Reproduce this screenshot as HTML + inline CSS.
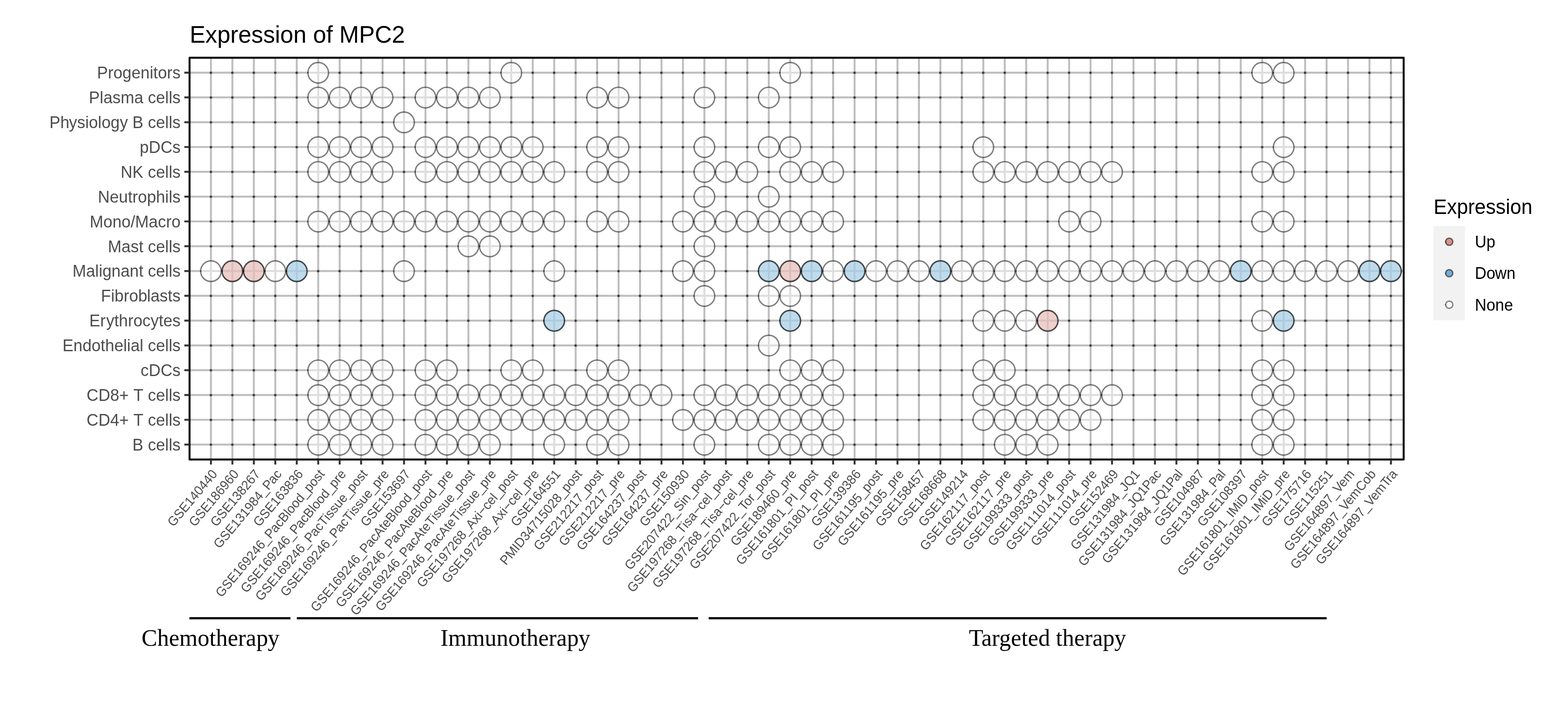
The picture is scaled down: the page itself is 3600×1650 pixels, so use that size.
<!DOCTYPE html>
<html lang="en"><head><meta charset="utf-8"><title>Expression of MPC2</title>
<style>
html,body{margin:0;padding:0;background:#fff;}
body{width:3600px;height:1650px;overflow:hidden;}
svg{display:block;}
text{font-family:"Liberation Sans",sans-serif;font-kerning:none;}
.ttl{font-size:54.25px;fill:#000;}
.yl{font-size:37.5px;fill:#4d4d4d;text-anchor:end;}
.xl{font-size:29.17px;fill:#4d4d4d;text-anchor:end;}
.ser{font-family:"Liberation Serif",serif;font-size:53.9px;fill:#000;text-anchor:middle;}
.lt{font-size:45.83px;fill:#000;}
.ll{font-size:36.67px;fill:#000;}
.g{stroke:#bebebe;stroke-width:4.45;fill:none;}
.tk{stroke:#333333;stroke-width:4.45;fill:none;}
.d{fill:rgba(0,0,0,0.56);}
.n{fill:rgba(255,255,255,0.48);stroke:rgba(0,0,0,0.5);stroke-width:3.2;}
.u{fill:rgba(231,189,186,0.49);stroke:rgba(0,0,0,0.5);stroke-width:3.2;}
.w{fill:rgba(168,208,231,0.5);stroke:rgba(0,0,0,0.5);stroke-width:3.2;}
.sn{fill:rgba(0,0,0,0.5);}
.su{fill:rgba(0,0,0,0.5);}
.sw{fill:rgba(0,0,0,0.5);}
</style></head><body>
<svg width="3600" height="1650" viewBox="0 0 3600 1650">
<rect x="0" y="0" width="3600" height="1650" fill="#fff"/>
<text class="ttl" transform="translate(435.4 98.1) scale(1 1.04)">Expression of MPC2</text>
<g class="g">
<path d="M435.2 166.65H3222.7M435.2 223.56H3222.7M435.2 280.47H3222.7M435.2 337.38H3222.7M435.2 394.29H3222.7M435.2 451.2H3222.7M435.2 508.11H3222.7M435.2 565.02H3222.7M435.2 621.93H3222.7M435.2 678.84H3222.7M435.2 735.75H3222.7M435.2 792.66H3222.7M435.2 849.57H3222.7M435.2 906.48H3222.7M435.2 963.39H3222.7M435.2 1020.3H3222.7M484.3 132.5V1054.5M533.56 132.5V1054.5M582.82 132.5V1054.5M632.07 132.5V1054.5M681.33 132.5V1054.5M730.59 132.5V1054.5M779.85 132.5V1054.5M829.11 132.5V1054.5M878.36 132.5V1054.5M927.62 132.5V1054.5M976.88 132.5V1054.5M1026.14 132.5V1054.5M1075.4 132.5V1054.5M1124.65 132.5V1054.5M1173.91 132.5V1054.5M1223.17 132.5V1054.5M1272.43 132.5V1054.5M1321.69 132.5V1054.5M1370.94 132.5V1054.5M1420.2 132.5V1054.5M1469.46 132.5V1054.5M1518.72 132.5V1054.5M1567.98 132.5V1054.5M1617.23 132.5V1054.5M1666.49 132.5V1054.5M1715.75 132.5V1054.5M1765.01 132.5V1054.5M1814.27 132.5V1054.5M1863.52 132.5V1054.5M1912.78 132.5V1054.5M1962.04 132.5V1054.5M2011.3 132.5V1054.5M2060.56 132.5V1054.5M2109.81 132.5V1054.5M2159.07 132.5V1054.5M2208.33 132.5V1054.5M2257.59 132.5V1054.5M2306.85 132.5V1054.5M2356.1 132.5V1054.5M2405.36 132.5V1054.5M2454.62 132.5V1054.5M2503.88 132.5V1054.5M2553.14 132.5V1054.5M2602.39 132.5V1054.5M2651.65 132.5V1054.5M2700.91 132.5V1054.5M2750.17 132.5V1054.5M2799.43 132.5V1054.5M2848.68 132.5V1054.5M2897.94 132.5V1054.5M2947.2 132.5V1054.5M2996.46 132.5V1054.5M3045.72 132.5V1054.5M3094.97 132.5V1054.5M3144.23 132.5V1054.5M3193.49 132.5V1054.5"/>
</g>
<g class="d">
<circle cx="484.3" cy="166.9" r="3"/>
<circle cx="533.56" cy="166.9" r="3"/>
<circle cx="582.82" cy="166.9" r="3"/>
<circle cx="632.07" cy="166.9" r="3"/>
<circle cx="681.33" cy="166.9" r="3"/>
<circle cx="779.85" cy="166.9" r="3"/>
<circle cx="829.11" cy="166.9" r="3"/>
<circle cx="878.36" cy="166.9" r="3"/>
<circle cx="927.62" cy="166.9" r="3"/>
<circle cx="976.88" cy="166.9" r="3"/>
<circle cx="1026.14" cy="166.9" r="3"/>
<circle cx="1075.4" cy="166.9" r="3"/>
<circle cx="1124.65" cy="166.9" r="3"/>
<circle cx="1223.17" cy="166.9" r="3"/>
<circle cx="1272.43" cy="166.9" r="3"/>
<circle cx="1321.69" cy="166.9" r="3"/>
<circle cx="1370.94" cy="166.9" r="3"/>
<circle cx="1420.2" cy="166.9" r="3"/>
<circle cx="1469.46" cy="166.9" r="3"/>
<circle cx="1518.72" cy="166.9" r="3"/>
<circle cx="1567.98" cy="166.9" r="3"/>
<circle cx="1617.23" cy="166.9" r="3"/>
<circle cx="1666.49" cy="166.9" r="3"/>
<circle cx="1715.75" cy="166.9" r="3"/>
<circle cx="1765.01" cy="166.9" r="3"/>
<circle cx="1863.52" cy="166.9" r="3"/>
<circle cx="1912.78" cy="166.9" r="3"/>
<circle cx="1962.04" cy="166.9" r="3"/>
<circle cx="2011.3" cy="166.9" r="3"/>
<circle cx="2060.56" cy="166.9" r="3"/>
<circle cx="2109.81" cy="166.9" r="3"/>
<circle cx="2159.07" cy="166.9" r="3"/>
<circle cx="2208.33" cy="166.9" r="3"/>
<circle cx="2257.59" cy="166.9" r="3"/>
<circle cx="2306.85" cy="166.9" r="3"/>
<circle cx="2356.1" cy="166.9" r="3"/>
<circle cx="2405.36" cy="166.9" r="3"/>
<circle cx="2454.62" cy="166.9" r="3"/>
<circle cx="2503.88" cy="166.9" r="3"/>
<circle cx="2553.14" cy="166.9" r="3"/>
<circle cx="2602.39" cy="166.9" r="3"/>
<circle cx="2651.65" cy="166.9" r="3"/>
<circle cx="2700.91" cy="166.9" r="3"/>
<circle cx="2750.17" cy="166.9" r="3"/>
<circle cx="2799.43" cy="166.9" r="3"/>
<circle cx="2848.68" cy="166.9" r="3"/>
<circle cx="2996.46" cy="166.9" r="3"/>
<circle cx="3045.72" cy="166.9" r="3"/>
<circle cx="3094.97" cy="166.9" r="3"/>
<circle cx="3144.23" cy="166.9" r="3"/>
<circle cx="3193.49" cy="166.9" r="3"/>
<circle cx="484.3" cy="223.81" r="3"/>
<circle cx="533.56" cy="223.81" r="3"/>
<circle cx="582.82" cy="223.81" r="3"/>
<circle cx="632.07" cy="223.81" r="3"/>
<circle cx="681.33" cy="223.81" r="3"/>
<circle cx="927.62" cy="223.81" r="3"/>
<circle cx="1173.91" cy="223.81" r="3"/>
<circle cx="1223.17" cy="223.81" r="3"/>
<circle cx="1272.43" cy="223.81" r="3"/>
<circle cx="1321.69" cy="223.81" r="3"/>
<circle cx="1469.46" cy="223.81" r="3"/>
<circle cx="1518.72" cy="223.81" r="3"/>
<circle cx="1567.98" cy="223.81" r="3"/>
<circle cx="1666.49" cy="223.81" r="3"/>
<circle cx="1715.75" cy="223.81" r="3"/>
<circle cx="1814.27" cy="223.81" r="3"/>
<circle cx="1863.52" cy="223.81" r="3"/>
<circle cx="1912.78" cy="223.81" r="3"/>
<circle cx="1962.04" cy="223.81" r="3"/>
<circle cx="2011.3" cy="223.81" r="3"/>
<circle cx="2060.56" cy="223.81" r="3"/>
<circle cx="2109.81" cy="223.81" r="3"/>
<circle cx="2159.07" cy="223.81" r="3"/>
<circle cx="2208.33" cy="223.81" r="3"/>
<circle cx="2257.59" cy="223.81" r="3"/>
<circle cx="2306.85" cy="223.81" r="3"/>
<circle cx="2356.1" cy="223.81" r="3"/>
<circle cx="2405.36" cy="223.81" r="3"/>
<circle cx="2454.62" cy="223.81" r="3"/>
<circle cx="2503.88" cy="223.81" r="3"/>
<circle cx="2553.14" cy="223.81" r="3"/>
<circle cx="2602.39" cy="223.81" r="3"/>
<circle cx="2651.65" cy="223.81" r="3"/>
<circle cx="2700.91" cy="223.81" r="3"/>
<circle cx="2750.17" cy="223.81" r="3"/>
<circle cx="2799.43" cy="223.81" r="3"/>
<circle cx="2848.68" cy="223.81" r="3"/>
<circle cx="2897.94" cy="223.81" r="3"/>
<circle cx="2947.2" cy="223.81" r="3"/>
<circle cx="2996.46" cy="223.81" r="3"/>
<circle cx="3045.72" cy="223.81" r="3"/>
<circle cx="3094.97" cy="223.81" r="3"/>
<circle cx="3144.23" cy="223.81" r="3"/>
<circle cx="3193.49" cy="223.81" r="3"/>
<circle cx="484.3" cy="280.72" r="3"/>
<circle cx="533.56" cy="280.72" r="3"/>
<circle cx="582.82" cy="280.72" r="3"/>
<circle cx="632.07" cy="280.72" r="3"/>
<circle cx="681.33" cy="280.72" r="3"/>
<circle cx="730.59" cy="280.72" r="3"/>
<circle cx="779.85" cy="280.72" r="3"/>
<circle cx="829.11" cy="280.72" r="3"/>
<circle cx="878.36" cy="280.72" r="3"/>
<circle cx="976.88" cy="280.72" r="3"/>
<circle cx="1026.14" cy="280.72" r="3"/>
<circle cx="1075.4" cy="280.72" r="3"/>
<circle cx="1124.65" cy="280.72" r="3"/>
<circle cx="1173.91" cy="280.72" r="3"/>
<circle cx="1223.17" cy="280.72" r="3"/>
<circle cx="1272.43" cy="280.72" r="3"/>
<circle cx="1321.69" cy="280.72" r="3"/>
<circle cx="1370.94" cy="280.72" r="3"/>
<circle cx="1420.2" cy="280.72" r="3"/>
<circle cx="1469.46" cy="280.72" r="3"/>
<circle cx="1518.72" cy="280.72" r="3"/>
<circle cx="1567.98" cy="280.72" r="3"/>
<circle cx="1617.23" cy="280.72" r="3"/>
<circle cx="1666.49" cy="280.72" r="3"/>
<circle cx="1715.75" cy="280.72" r="3"/>
<circle cx="1765.01" cy="280.72" r="3"/>
<circle cx="1814.27" cy="280.72" r="3"/>
<circle cx="1863.52" cy="280.72" r="3"/>
<circle cx="1912.78" cy="280.72" r="3"/>
<circle cx="1962.04" cy="280.72" r="3"/>
<circle cx="2011.3" cy="280.72" r="3"/>
<circle cx="2060.56" cy="280.72" r="3"/>
<circle cx="2109.81" cy="280.72" r="3"/>
<circle cx="2159.07" cy="280.72" r="3"/>
<circle cx="2208.33" cy="280.72" r="3"/>
<circle cx="2257.59" cy="280.72" r="3"/>
<circle cx="2306.85" cy="280.72" r="3"/>
<circle cx="2356.1" cy="280.72" r="3"/>
<circle cx="2405.36" cy="280.72" r="3"/>
<circle cx="2454.62" cy="280.72" r="3"/>
<circle cx="2503.88" cy="280.72" r="3"/>
<circle cx="2553.14" cy="280.72" r="3"/>
<circle cx="2602.39" cy="280.72" r="3"/>
<circle cx="2651.65" cy="280.72" r="3"/>
<circle cx="2700.91" cy="280.72" r="3"/>
<circle cx="2750.17" cy="280.72" r="3"/>
<circle cx="2799.43" cy="280.72" r="3"/>
<circle cx="2848.68" cy="280.72" r="3"/>
<circle cx="2897.94" cy="280.72" r="3"/>
<circle cx="2947.2" cy="280.72" r="3"/>
<circle cx="2996.46" cy="280.72" r="3"/>
<circle cx="3045.72" cy="280.72" r="3"/>
<circle cx="3094.97" cy="280.72" r="3"/>
<circle cx="3144.23" cy="280.72" r="3"/>
<circle cx="3193.49" cy="280.72" r="3"/>
<circle cx="484.3" cy="337.63" r="3"/>
<circle cx="533.56" cy="337.63" r="3"/>
<circle cx="582.82" cy="337.63" r="3"/>
<circle cx="632.07" cy="337.63" r="3"/>
<circle cx="681.33" cy="337.63" r="3"/>
<circle cx="927.62" cy="337.63" r="3"/>
<circle cx="1272.43" cy="337.63" r="3"/>
<circle cx="1321.69" cy="337.63" r="3"/>
<circle cx="1469.46" cy="337.63" r="3"/>
<circle cx="1518.72" cy="337.63" r="3"/>
<circle cx="1567.98" cy="337.63" r="3"/>
<circle cx="1666.49" cy="337.63" r="3"/>
<circle cx="1715.75" cy="337.63" r="3"/>
<circle cx="1863.52" cy="337.63" r="3"/>
<circle cx="1912.78" cy="337.63" r="3"/>
<circle cx="1962.04" cy="337.63" r="3"/>
<circle cx="2011.3" cy="337.63" r="3"/>
<circle cx="2060.56" cy="337.63" r="3"/>
<circle cx="2109.81" cy="337.63" r="3"/>
<circle cx="2159.07" cy="337.63" r="3"/>
<circle cx="2208.33" cy="337.63" r="3"/>
<circle cx="2306.85" cy="337.63" r="3"/>
<circle cx="2356.1" cy="337.63" r="3"/>
<circle cx="2405.36" cy="337.63" r="3"/>
<circle cx="2454.62" cy="337.63" r="3"/>
<circle cx="2503.88" cy="337.63" r="3"/>
<circle cx="2553.14" cy="337.63" r="3"/>
<circle cx="2602.39" cy="337.63" r="3"/>
<circle cx="2651.65" cy="337.63" r="3"/>
<circle cx="2700.91" cy="337.63" r="3"/>
<circle cx="2750.17" cy="337.63" r="3"/>
<circle cx="2799.43" cy="337.63" r="3"/>
<circle cx="2848.68" cy="337.63" r="3"/>
<circle cx="2897.94" cy="337.63" r="3"/>
<circle cx="2996.46" cy="337.63" r="3"/>
<circle cx="3045.72" cy="337.63" r="3"/>
<circle cx="3094.97" cy="337.63" r="3"/>
<circle cx="3144.23" cy="337.63" r="3"/>
<circle cx="3193.49" cy="337.63" r="3"/>
<circle cx="484.3" cy="394.54" r="3"/>
<circle cx="533.56" cy="394.54" r="3"/>
<circle cx="582.82" cy="394.54" r="3"/>
<circle cx="632.07" cy="394.54" r="3"/>
<circle cx="681.33" cy="394.54" r="3"/>
<circle cx="927.62" cy="394.54" r="3"/>
<circle cx="1321.69" cy="394.54" r="3"/>
<circle cx="1469.46" cy="394.54" r="3"/>
<circle cx="1518.72" cy="394.54" r="3"/>
<circle cx="1567.98" cy="394.54" r="3"/>
<circle cx="1765.01" cy="394.54" r="3"/>
<circle cx="1962.04" cy="394.54" r="3"/>
<circle cx="2011.3" cy="394.54" r="3"/>
<circle cx="2060.56" cy="394.54" r="3"/>
<circle cx="2109.81" cy="394.54" r="3"/>
<circle cx="2159.07" cy="394.54" r="3"/>
<circle cx="2208.33" cy="394.54" r="3"/>
<circle cx="2602.39" cy="394.54" r="3"/>
<circle cx="2651.65" cy="394.54" r="3"/>
<circle cx="2700.91" cy="394.54" r="3"/>
<circle cx="2750.17" cy="394.54" r="3"/>
<circle cx="2799.43" cy="394.54" r="3"/>
<circle cx="2848.68" cy="394.54" r="3"/>
<circle cx="2996.46" cy="394.54" r="3"/>
<circle cx="3045.72" cy="394.54" r="3"/>
<circle cx="3094.97" cy="394.54" r="3"/>
<circle cx="3144.23" cy="394.54" r="3"/>
<circle cx="3193.49" cy="394.54" r="3"/>
<circle cx="484.3" cy="451.45" r="3"/>
<circle cx="533.56" cy="451.45" r="3"/>
<circle cx="582.82" cy="451.45" r="3"/>
<circle cx="632.07" cy="451.45" r="3"/>
<circle cx="681.33" cy="451.45" r="3"/>
<circle cx="730.59" cy="451.45" r="3"/>
<circle cx="779.85" cy="451.45" r="3"/>
<circle cx="829.11" cy="451.45" r="3"/>
<circle cx="878.36" cy="451.45" r="3"/>
<circle cx="927.62" cy="451.45" r="3"/>
<circle cx="976.88" cy="451.45" r="3"/>
<circle cx="1026.14" cy="451.45" r="3"/>
<circle cx="1075.4" cy="451.45" r="3"/>
<circle cx="1124.65" cy="451.45" r="3"/>
<circle cx="1173.91" cy="451.45" r="3"/>
<circle cx="1223.17" cy="451.45" r="3"/>
<circle cx="1272.43" cy="451.45" r="3"/>
<circle cx="1321.69" cy="451.45" r="3"/>
<circle cx="1370.94" cy="451.45" r="3"/>
<circle cx="1420.2" cy="451.45" r="3"/>
<circle cx="1469.46" cy="451.45" r="3"/>
<circle cx="1518.72" cy="451.45" r="3"/>
<circle cx="1567.98" cy="451.45" r="3"/>
<circle cx="1666.49" cy="451.45" r="3"/>
<circle cx="1715.75" cy="451.45" r="3"/>
<circle cx="1814.27" cy="451.45" r="3"/>
<circle cx="1863.52" cy="451.45" r="3"/>
<circle cx="1912.78" cy="451.45" r="3"/>
<circle cx="1962.04" cy="451.45" r="3"/>
<circle cx="2011.3" cy="451.45" r="3"/>
<circle cx="2060.56" cy="451.45" r="3"/>
<circle cx="2109.81" cy="451.45" r="3"/>
<circle cx="2159.07" cy="451.45" r="3"/>
<circle cx="2208.33" cy="451.45" r="3"/>
<circle cx="2257.59" cy="451.45" r="3"/>
<circle cx="2306.85" cy="451.45" r="3"/>
<circle cx="2356.1" cy="451.45" r="3"/>
<circle cx="2405.36" cy="451.45" r="3"/>
<circle cx="2454.62" cy="451.45" r="3"/>
<circle cx="2503.88" cy="451.45" r="3"/>
<circle cx="2553.14" cy="451.45" r="3"/>
<circle cx="2602.39" cy="451.45" r="3"/>
<circle cx="2651.65" cy="451.45" r="3"/>
<circle cx="2700.91" cy="451.45" r="3"/>
<circle cx="2750.17" cy="451.45" r="3"/>
<circle cx="2799.43" cy="451.45" r="3"/>
<circle cx="2848.68" cy="451.45" r="3"/>
<circle cx="2897.94" cy="451.45" r="3"/>
<circle cx="2947.2" cy="451.45" r="3"/>
<circle cx="2996.46" cy="451.45" r="3"/>
<circle cx="3045.72" cy="451.45" r="3"/>
<circle cx="3094.97" cy="451.45" r="3"/>
<circle cx="3144.23" cy="451.45" r="3"/>
<circle cx="3193.49" cy="451.45" r="3"/>
<circle cx="484.3" cy="508.36" r="3"/>
<circle cx="533.56" cy="508.36" r="3"/>
<circle cx="582.82" cy="508.36" r="3"/>
<circle cx="632.07" cy="508.36" r="3"/>
<circle cx="681.33" cy="508.36" r="3"/>
<circle cx="1321.69" cy="508.36" r="3"/>
<circle cx="1469.46" cy="508.36" r="3"/>
<circle cx="1518.72" cy="508.36" r="3"/>
<circle cx="1962.04" cy="508.36" r="3"/>
<circle cx="2011.3" cy="508.36" r="3"/>
<circle cx="2060.56" cy="508.36" r="3"/>
<circle cx="2109.81" cy="508.36" r="3"/>
<circle cx="2159.07" cy="508.36" r="3"/>
<circle cx="2208.33" cy="508.36" r="3"/>
<circle cx="2257.59" cy="508.36" r="3"/>
<circle cx="2306.85" cy="508.36" r="3"/>
<circle cx="2356.1" cy="508.36" r="3"/>
<circle cx="2405.36" cy="508.36" r="3"/>
<circle cx="2553.14" cy="508.36" r="3"/>
<circle cx="2602.39" cy="508.36" r="3"/>
<circle cx="2651.65" cy="508.36" r="3"/>
<circle cx="2700.91" cy="508.36" r="3"/>
<circle cx="2750.17" cy="508.36" r="3"/>
<circle cx="2799.43" cy="508.36" r="3"/>
<circle cx="2848.68" cy="508.36" r="3"/>
<circle cx="2996.46" cy="508.36" r="3"/>
<circle cx="3045.72" cy="508.36" r="3"/>
<circle cx="3094.97" cy="508.36" r="3"/>
<circle cx="3144.23" cy="508.36" r="3"/>
<circle cx="3193.49" cy="508.36" r="3"/>
<circle cx="484.3" cy="565.27" r="3"/>
<circle cx="533.56" cy="565.27" r="3"/>
<circle cx="582.82" cy="565.27" r="3"/>
<circle cx="632.07" cy="565.27" r="3"/>
<circle cx="681.33" cy="565.27" r="3"/>
<circle cx="730.59" cy="565.27" r="3"/>
<circle cx="779.85" cy="565.27" r="3"/>
<circle cx="829.11" cy="565.27" r="3"/>
<circle cx="878.36" cy="565.27" r="3"/>
<circle cx="927.62" cy="565.27" r="3"/>
<circle cx="976.88" cy="565.27" r="3"/>
<circle cx="1026.14" cy="565.27" r="3"/>
<circle cx="1173.91" cy="565.27" r="3"/>
<circle cx="1223.17" cy="565.27" r="3"/>
<circle cx="1272.43" cy="565.27" r="3"/>
<circle cx="1321.69" cy="565.27" r="3"/>
<circle cx="1370.94" cy="565.27" r="3"/>
<circle cx="1420.2" cy="565.27" r="3"/>
<circle cx="1469.46" cy="565.27" r="3"/>
<circle cx="1518.72" cy="565.27" r="3"/>
<circle cx="1567.98" cy="565.27" r="3"/>
<circle cx="1666.49" cy="565.27" r="3"/>
<circle cx="1715.75" cy="565.27" r="3"/>
<circle cx="1765.01" cy="565.27" r="3"/>
<circle cx="1814.27" cy="565.27" r="3"/>
<circle cx="1863.52" cy="565.27" r="3"/>
<circle cx="1912.78" cy="565.27" r="3"/>
<circle cx="1962.04" cy="565.27" r="3"/>
<circle cx="2011.3" cy="565.27" r="3"/>
<circle cx="2060.56" cy="565.27" r="3"/>
<circle cx="2109.81" cy="565.27" r="3"/>
<circle cx="2159.07" cy="565.27" r="3"/>
<circle cx="2208.33" cy="565.27" r="3"/>
<circle cx="2257.59" cy="565.27" r="3"/>
<circle cx="2306.85" cy="565.27" r="3"/>
<circle cx="2356.1" cy="565.27" r="3"/>
<circle cx="2405.36" cy="565.27" r="3"/>
<circle cx="2454.62" cy="565.27" r="3"/>
<circle cx="2503.88" cy="565.27" r="3"/>
<circle cx="2553.14" cy="565.27" r="3"/>
<circle cx="2602.39" cy="565.27" r="3"/>
<circle cx="2651.65" cy="565.27" r="3"/>
<circle cx="2700.91" cy="565.27" r="3"/>
<circle cx="2750.17" cy="565.27" r="3"/>
<circle cx="2799.43" cy="565.27" r="3"/>
<circle cx="2848.68" cy="565.27" r="3"/>
<circle cx="2897.94" cy="565.27" r="3"/>
<circle cx="2947.2" cy="565.27" r="3"/>
<circle cx="2996.46" cy="565.27" r="3"/>
<circle cx="3045.72" cy="565.27" r="3"/>
<circle cx="3094.97" cy="565.27" r="3"/>
<circle cx="3144.23" cy="565.27" r="3"/>
<circle cx="3193.49" cy="565.27" r="3"/>
<circle cx="730.59" cy="622.18" r="3"/>
<circle cx="779.85" cy="622.18" r="3"/>
<circle cx="829.11" cy="622.18" r="3"/>
<circle cx="878.36" cy="622.18" r="3"/>
<circle cx="976.88" cy="622.18" r="3"/>
<circle cx="1026.14" cy="622.18" r="3"/>
<circle cx="1075.4" cy="622.18" r="3"/>
<circle cx="1124.65" cy="622.18" r="3"/>
<circle cx="1173.91" cy="622.18" r="3"/>
<circle cx="1223.17" cy="622.18" r="3"/>
<circle cx="1321.69" cy="622.18" r="3"/>
<circle cx="1370.94" cy="622.18" r="3"/>
<circle cx="1420.2" cy="622.18" r="3"/>
<circle cx="1469.46" cy="622.18" r="3"/>
<circle cx="1518.72" cy="622.18" r="3"/>
<circle cx="1666.49" cy="622.18" r="3"/>
<circle cx="1715.75" cy="622.18" r="3"/>
<circle cx="484.3" cy="679.09" r="3"/>
<circle cx="533.56" cy="679.09" r="3"/>
<circle cx="582.82" cy="679.09" r="3"/>
<circle cx="632.07" cy="679.09" r="3"/>
<circle cx="681.33" cy="679.09" r="3"/>
<circle cx="730.59" cy="679.09" r="3"/>
<circle cx="779.85" cy="679.09" r="3"/>
<circle cx="829.11" cy="679.09" r="3"/>
<circle cx="878.36" cy="679.09" r="3"/>
<circle cx="927.62" cy="679.09" r="3"/>
<circle cx="976.88" cy="679.09" r="3"/>
<circle cx="1026.14" cy="679.09" r="3"/>
<circle cx="1075.4" cy="679.09" r="3"/>
<circle cx="1124.65" cy="679.09" r="3"/>
<circle cx="1173.91" cy="679.09" r="3"/>
<circle cx="1223.17" cy="679.09" r="3"/>
<circle cx="1272.43" cy="679.09" r="3"/>
<circle cx="1321.69" cy="679.09" r="3"/>
<circle cx="1370.94" cy="679.09" r="3"/>
<circle cx="1420.2" cy="679.09" r="3"/>
<circle cx="1469.46" cy="679.09" r="3"/>
<circle cx="1518.72" cy="679.09" r="3"/>
<circle cx="1567.98" cy="679.09" r="3"/>
<circle cx="1666.49" cy="679.09" r="3"/>
<circle cx="1715.75" cy="679.09" r="3"/>
<circle cx="1863.52" cy="679.09" r="3"/>
<circle cx="1912.78" cy="679.09" r="3"/>
<circle cx="1962.04" cy="679.09" r="3"/>
<circle cx="2011.3" cy="679.09" r="3"/>
<circle cx="2060.56" cy="679.09" r="3"/>
<circle cx="2109.81" cy="679.09" r="3"/>
<circle cx="2159.07" cy="679.09" r="3"/>
<circle cx="2208.33" cy="679.09" r="3"/>
<circle cx="2257.59" cy="679.09" r="3"/>
<circle cx="2306.85" cy="679.09" r="3"/>
<circle cx="2356.1" cy="679.09" r="3"/>
<circle cx="2405.36" cy="679.09" r="3"/>
<circle cx="2454.62" cy="679.09" r="3"/>
<circle cx="2503.88" cy="679.09" r="3"/>
<circle cx="2553.14" cy="679.09" r="3"/>
<circle cx="2602.39" cy="679.09" r="3"/>
<circle cx="2651.65" cy="679.09" r="3"/>
<circle cx="2700.91" cy="679.09" r="3"/>
<circle cx="2750.17" cy="679.09" r="3"/>
<circle cx="2799.43" cy="679.09" r="3"/>
<circle cx="2848.68" cy="679.09" r="3"/>
<circle cx="2897.94" cy="679.09" r="3"/>
<circle cx="2947.2" cy="679.09" r="3"/>
<circle cx="2996.46" cy="679.09" r="3"/>
<circle cx="3045.72" cy="679.09" r="3"/>
<circle cx="3094.97" cy="679.09" r="3"/>
<circle cx="3144.23" cy="679.09" r="3"/>
<circle cx="3193.49" cy="679.09" r="3"/>
<circle cx="484.3" cy="736" r="3"/>
<circle cx="533.56" cy="736" r="3"/>
<circle cx="582.82" cy="736" r="3"/>
<circle cx="632.07" cy="736" r="3"/>
<circle cx="681.33" cy="736" r="3"/>
<circle cx="730.59" cy="736" r="3"/>
<circle cx="779.85" cy="736" r="3"/>
<circle cx="829.11" cy="736" r="3"/>
<circle cx="878.36" cy="736" r="3"/>
<circle cx="927.62" cy="736" r="3"/>
<circle cx="976.88" cy="736" r="3"/>
<circle cx="1026.14" cy="736" r="3"/>
<circle cx="1075.4" cy="736" r="3"/>
<circle cx="1124.65" cy="736" r="3"/>
<circle cx="1173.91" cy="736" r="3"/>
<circle cx="1223.17" cy="736" r="3"/>
<circle cx="1321.69" cy="736" r="3"/>
<circle cx="1370.94" cy="736" r="3"/>
<circle cx="1420.2" cy="736" r="3"/>
<circle cx="1469.46" cy="736" r="3"/>
<circle cx="1518.72" cy="736" r="3"/>
<circle cx="1567.98" cy="736" r="3"/>
<circle cx="1617.23" cy="736" r="3"/>
<circle cx="1666.49" cy="736" r="3"/>
<circle cx="1715.75" cy="736" r="3"/>
<circle cx="1765.01" cy="736" r="3"/>
<circle cx="1863.52" cy="736" r="3"/>
<circle cx="1912.78" cy="736" r="3"/>
<circle cx="1962.04" cy="736" r="3"/>
<circle cx="2011.3" cy="736" r="3"/>
<circle cx="2060.56" cy="736" r="3"/>
<circle cx="2109.81" cy="736" r="3"/>
<circle cx="2159.07" cy="736" r="3"/>
<circle cx="2208.33" cy="736" r="3"/>
<circle cx="2454.62" cy="736" r="3"/>
<circle cx="2503.88" cy="736" r="3"/>
<circle cx="2553.14" cy="736" r="3"/>
<circle cx="2602.39" cy="736" r="3"/>
<circle cx="2651.65" cy="736" r="3"/>
<circle cx="2700.91" cy="736" r="3"/>
<circle cx="2750.17" cy="736" r="3"/>
<circle cx="2799.43" cy="736" r="3"/>
<circle cx="2848.68" cy="736" r="3"/>
<circle cx="2996.46" cy="736" r="3"/>
<circle cx="3045.72" cy="736" r="3"/>
<circle cx="3094.97" cy="736" r="3"/>
<circle cx="3144.23" cy="736" r="3"/>
<circle cx="3193.49" cy="736" r="3"/>
<circle cx="484.3" cy="792.91" r="3"/>
<circle cx="533.56" cy="792.91" r="3"/>
<circle cx="582.82" cy="792.91" r="3"/>
<circle cx="632.07" cy="792.91" r="3"/>
<circle cx="681.33" cy="792.91" r="3"/>
<circle cx="730.59" cy="792.91" r="3"/>
<circle cx="779.85" cy="792.91" r="3"/>
<circle cx="829.11" cy="792.91" r="3"/>
<circle cx="878.36" cy="792.91" r="3"/>
<circle cx="927.62" cy="792.91" r="3"/>
<circle cx="976.88" cy="792.91" r="3"/>
<circle cx="1026.14" cy="792.91" r="3"/>
<circle cx="1075.4" cy="792.91" r="3"/>
<circle cx="1124.65" cy="792.91" r="3"/>
<circle cx="1173.91" cy="792.91" r="3"/>
<circle cx="1223.17" cy="792.91" r="3"/>
<circle cx="1272.43" cy="792.91" r="3"/>
<circle cx="1321.69" cy="792.91" r="3"/>
<circle cx="1370.94" cy="792.91" r="3"/>
<circle cx="1420.2" cy="792.91" r="3"/>
<circle cx="1469.46" cy="792.91" r="3"/>
<circle cx="1518.72" cy="792.91" r="3"/>
<circle cx="1567.98" cy="792.91" r="3"/>
<circle cx="1617.23" cy="792.91" r="3"/>
<circle cx="1666.49" cy="792.91" r="3"/>
<circle cx="1715.75" cy="792.91" r="3"/>
<circle cx="1814.27" cy="792.91" r="3"/>
<circle cx="1863.52" cy="792.91" r="3"/>
<circle cx="1912.78" cy="792.91" r="3"/>
<circle cx="1962.04" cy="792.91" r="3"/>
<circle cx="2011.3" cy="792.91" r="3"/>
<circle cx="2060.56" cy="792.91" r="3"/>
<circle cx="2109.81" cy="792.91" r="3"/>
<circle cx="2159.07" cy="792.91" r="3"/>
<circle cx="2208.33" cy="792.91" r="3"/>
<circle cx="2257.59" cy="792.91" r="3"/>
<circle cx="2306.85" cy="792.91" r="3"/>
<circle cx="2356.1" cy="792.91" r="3"/>
<circle cx="2405.36" cy="792.91" r="3"/>
<circle cx="2454.62" cy="792.91" r="3"/>
<circle cx="2503.88" cy="792.91" r="3"/>
<circle cx="2553.14" cy="792.91" r="3"/>
<circle cx="2602.39" cy="792.91" r="3"/>
<circle cx="2651.65" cy="792.91" r="3"/>
<circle cx="2700.91" cy="792.91" r="3"/>
<circle cx="2750.17" cy="792.91" r="3"/>
<circle cx="2799.43" cy="792.91" r="3"/>
<circle cx="2848.68" cy="792.91" r="3"/>
<circle cx="2897.94" cy="792.91" r="3"/>
<circle cx="2947.2" cy="792.91" r="3"/>
<circle cx="2996.46" cy="792.91" r="3"/>
<circle cx="3045.72" cy="792.91" r="3"/>
<circle cx="3094.97" cy="792.91" r="3"/>
<circle cx="3144.23" cy="792.91" r="3"/>
<circle cx="3193.49" cy="792.91" r="3"/>
<circle cx="484.3" cy="849.82" r="3"/>
<circle cx="533.56" cy="849.82" r="3"/>
<circle cx="582.82" cy="849.82" r="3"/>
<circle cx="632.07" cy="849.82" r="3"/>
<circle cx="681.33" cy="849.82" r="3"/>
<circle cx="927.62" cy="849.82" r="3"/>
<circle cx="1075.4" cy="849.82" r="3"/>
<circle cx="1124.65" cy="849.82" r="3"/>
<circle cx="1272.43" cy="849.82" r="3"/>
<circle cx="1321.69" cy="849.82" r="3"/>
<circle cx="1469.46" cy="849.82" r="3"/>
<circle cx="1518.72" cy="849.82" r="3"/>
<circle cx="1567.98" cy="849.82" r="3"/>
<circle cx="1617.23" cy="849.82" r="3"/>
<circle cx="1666.49" cy="849.82" r="3"/>
<circle cx="1715.75" cy="849.82" r="3"/>
<circle cx="1765.01" cy="849.82" r="3"/>
<circle cx="1962.04" cy="849.82" r="3"/>
<circle cx="2011.3" cy="849.82" r="3"/>
<circle cx="2060.56" cy="849.82" r="3"/>
<circle cx="2109.81" cy="849.82" r="3"/>
<circle cx="2159.07" cy="849.82" r="3"/>
<circle cx="2208.33" cy="849.82" r="3"/>
<circle cx="2356.1" cy="849.82" r="3"/>
<circle cx="2405.36" cy="849.82" r="3"/>
<circle cx="2454.62" cy="849.82" r="3"/>
<circle cx="2503.88" cy="849.82" r="3"/>
<circle cx="2553.14" cy="849.82" r="3"/>
<circle cx="2602.39" cy="849.82" r="3"/>
<circle cx="2651.65" cy="849.82" r="3"/>
<circle cx="2700.91" cy="849.82" r="3"/>
<circle cx="2750.17" cy="849.82" r="3"/>
<circle cx="2799.43" cy="849.82" r="3"/>
<circle cx="2848.68" cy="849.82" r="3"/>
<circle cx="2996.46" cy="849.82" r="3"/>
<circle cx="3045.72" cy="849.82" r="3"/>
<circle cx="3094.97" cy="849.82" r="3"/>
<circle cx="3144.23" cy="849.82" r="3"/>
<circle cx="3193.49" cy="849.82" r="3"/>
<circle cx="484.3" cy="906.73" r="3"/>
<circle cx="533.56" cy="906.73" r="3"/>
<circle cx="582.82" cy="906.73" r="3"/>
<circle cx="632.07" cy="906.73" r="3"/>
<circle cx="681.33" cy="906.73" r="3"/>
<circle cx="927.62" cy="906.73" r="3"/>
<circle cx="1567.98" cy="906.73" r="3"/>
<circle cx="1962.04" cy="906.73" r="3"/>
<circle cx="2011.3" cy="906.73" r="3"/>
<circle cx="2060.56" cy="906.73" r="3"/>
<circle cx="2109.81" cy="906.73" r="3"/>
<circle cx="2159.07" cy="906.73" r="3"/>
<circle cx="2208.33" cy="906.73" r="3"/>
<circle cx="2602.39" cy="906.73" r="3"/>
<circle cx="2651.65" cy="906.73" r="3"/>
<circle cx="2700.91" cy="906.73" r="3"/>
<circle cx="2750.17" cy="906.73" r="3"/>
<circle cx="2799.43" cy="906.73" r="3"/>
<circle cx="2848.68" cy="906.73" r="3"/>
<circle cx="2996.46" cy="906.73" r="3"/>
<circle cx="3045.72" cy="906.73" r="3"/>
<circle cx="3094.97" cy="906.73" r="3"/>
<circle cx="3144.23" cy="906.73" r="3"/>
<circle cx="3193.49" cy="906.73" r="3"/>
<circle cx="484.3" cy="963.64" r="3"/>
<circle cx="533.56" cy="963.64" r="3"/>
<circle cx="582.82" cy="963.64" r="3"/>
<circle cx="632.07" cy="963.64" r="3"/>
<circle cx="681.33" cy="963.64" r="3"/>
<circle cx="927.62" cy="963.64" r="3"/>
<circle cx="1469.46" cy="963.64" r="3"/>
<circle cx="1518.72" cy="963.64" r="3"/>
<circle cx="1962.04" cy="963.64" r="3"/>
<circle cx="2011.3" cy="963.64" r="3"/>
<circle cx="2060.56" cy="963.64" r="3"/>
<circle cx="2109.81" cy="963.64" r="3"/>
<circle cx="2159.07" cy="963.64" r="3"/>
<circle cx="2208.33" cy="963.64" r="3"/>
<circle cx="2553.14" cy="963.64" r="3"/>
<circle cx="2602.39" cy="963.64" r="3"/>
<circle cx="2651.65" cy="963.64" r="3"/>
<circle cx="2700.91" cy="963.64" r="3"/>
<circle cx="2750.17" cy="963.64" r="3"/>
<circle cx="2799.43" cy="963.64" r="3"/>
<circle cx="2848.68" cy="963.64" r="3"/>
<circle cx="2996.46" cy="963.64" r="3"/>
<circle cx="3045.72" cy="963.64" r="3"/>
<circle cx="3094.97" cy="963.64" r="3"/>
<circle cx="3144.23" cy="963.64" r="3"/>
<circle cx="3193.49" cy="963.64" r="3"/>
<circle cx="484.3" cy="1020.55" r="3"/>
<circle cx="533.56" cy="1020.55" r="3"/>
<circle cx="582.82" cy="1020.55" r="3"/>
<circle cx="632.07" cy="1020.55" r="3"/>
<circle cx="681.33" cy="1020.55" r="3"/>
<circle cx="927.62" cy="1020.55" r="3"/>
<circle cx="1173.91" cy="1020.55" r="3"/>
<circle cx="1223.17" cy="1020.55" r="3"/>
<circle cx="1321.69" cy="1020.55" r="3"/>
<circle cx="1469.46" cy="1020.55" r="3"/>
<circle cx="1518.72" cy="1020.55" r="3"/>
<circle cx="1567.98" cy="1020.55" r="3"/>
<circle cx="1666.49" cy="1020.55" r="3"/>
<circle cx="1715.75" cy="1020.55" r="3"/>
<circle cx="1962.04" cy="1020.55" r="3"/>
<circle cx="2011.3" cy="1020.55" r="3"/>
<circle cx="2060.56" cy="1020.55" r="3"/>
<circle cx="2109.81" cy="1020.55" r="3"/>
<circle cx="2159.07" cy="1020.55" r="3"/>
<circle cx="2208.33" cy="1020.55" r="3"/>
<circle cx="2257.59" cy="1020.55" r="3"/>
<circle cx="2454.62" cy="1020.55" r="3"/>
<circle cx="2503.88" cy="1020.55" r="3"/>
<circle cx="2553.14" cy="1020.55" r="3"/>
<circle cx="2602.39" cy="1020.55" r="3"/>
<circle cx="2651.65" cy="1020.55" r="3"/>
<circle cx="2700.91" cy="1020.55" r="3"/>
<circle cx="2750.17" cy="1020.55" r="3"/>
<circle cx="2799.43" cy="1020.55" r="3"/>
<circle cx="2848.68" cy="1020.55" r="3"/>
<circle cx="2996.46" cy="1020.55" r="3"/>
<circle cx="3045.72" cy="1020.55" r="3"/>
<circle cx="3094.97" cy="1020.55" r="3"/>
<circle cx="3144.23" cy="1020.55" r="3"/>
<circle cx="3193.49" cy="1020.55" r="3"/>
</g>
<g fill="rgba(0,0,0,0.6)">
<ellipse cx="483.4" cy="166.95" rx="1.25" ry="1.35"/>
<ellipse cx="532.66" cy="166.95" rx="1.25" ry="1.35"/>
<ellipse cx="581.92" cy="166.95" rx="1.25" ry="1.35"/>
<ellipse cx="631.17" cy="166.95" rx="1.25" ry="1.35"/>
<ellipse cx="680.43" cy="166.95" rx="1.25" ry="1.35"/>
<ellipse cx="778.95" cy="166.95" rx="1.25" ry="1.35"/>
<ellipse cx="828.21" cy="166.95" rx="1.25" ry="1.35"/>
<ellipse cx="877.46" cy="166.95" rx="1.25" ry="1.35"/>
<ellipse cx="926.72" cy="166.95" rx="1.25" ry="1.35"/>
<ellipse cx="975.98" cy="166.95" rx="1.25" ry="1.35"/>
<ellipse cx="1025.24" cy="166.95" rx="1.25" ry="1.35"/>
<ellipse cx="1074.5" cy="166.95" rx="1.25" ry="1.35"/>
<ellipse cx="1123.75" cy="166.95" rx="1.25" ry="1.35"/>
<ellipse cx="1222.27" cy="166.95" rx="1.25" ry="1.35"/>
<ellipse cx="1271.53" cy="166.95" rx="1.25" ry="1.35"/>
<ellipse cx="1320.79" cy="166.95" rx="1.25" ry="1.35"/>
<ellipse cx="1370.04" cy="166.95" rx="1.25" ry="1.35"/>
<ellipse cx="1419.3" cy="166.95" rx="1.25" ry="1.35"/>
<ellipse cx="1468.56" cy="166.95" rx="1.25" ry="1.35"/>
<ellipse cx="1517.82" cy="166.95" rx="1.25" ry="1.35"/>
<ellipse cx="1567.08" cy="166.95" rx="1.25" ry="1.35"/>
<ellipse cx="1616.33" cy="166.95" rx="1.25" ry="1.35"/>
<ellipse cx="1665.59" cy="166.95" rx="1.25" ry="1.35"/>
<ellipse cx="1714.85" cy="166.95" rx="1.25" ry="1.35"/>
<ellipse cx="1764.11" cy="166.95" rx="1.25" ry="1.35"/>
<ellipse cx="1862.62" cy="166.95" rx="1.25" ry="1.35"/>
<ellipse cx="1911.88" cy="166.95" rx="1.25" ry="1.35"/>
<ellipse cx="1961.14" cy="166.95" rx="1.25" ry="1.35"/>
<ellipse cx="2010.4" cy="166.95" rx="1.25" ry="1.35"/>
<ellipse cx="2059.66" cy="166.95" rx="1.25" ry="1.35"/>
<ellipse cx="2108.91" cy="166.95" rx="1.25" ry="1.35"/>
<ellipse cx="2158.17" cy="166.95" rx="1.25" ry="1.35"/>
<ellipse cx="2207.43" cy="166.95" rx="1.25" ry="1.35"/>
<ellipse cx="2256.69" cy="166.95" rx="1.25" ry="1.35"/>
<ellipse cx="2305.95" cy="166.95" rx="1.25" ry="1.35"/>
<ellipse cx="2355.2" cy="166.95" rx="1.25" ry="1.35"/>
<ellipse cx="2404.46" cy="166.95" rx="1.25" ry="1.35"/>
<ellipse cx="2453.72" cy="166.95" rx="1.25" ry="1.35"/>
<ellipse cx="2502.98" cy="166.95" rx="1.25" ry="1.35"/>
<ellipse cx="2552.24" cy="166.95" rx="1.25" ry="1.35"/>
<ellipse cx="2601.49" cy="166.95" rx="1.25" ry="1.35"/>
<ellipse cx="2650.75" cy="166.95" rx="1.25" ry="1.35"/>
<ellipse cx="2700.01" cy="166.95" rx="1.25" ry="1.35"/>
<ellipse cx="2749.27" cy="166.95" rx="1.25" ry="1.35"/>
<ellipse cx="2798.53" cy="166.95" rx="1.25" ry="1.35"/>
<ellipse cx="2847.78" cy="166.95" rx="1.25" ry="1.35"/>
<ellipse cx="2995.56" cy="166.95" rx="1.25" ry="1.35"/>
<ellipse cx="3044.82" cy="166.95" rx="1.25" ry="1.35"/>
<ellipse cx="3094.07" cy="166.95" rx="1.25" ry="1.35"/>
<ellipse cx="3143.33" cy="166.95" rx="1.25" ry="1.35"/>
<ellipse cx="3192.59" cy="166.95" rx="1.25" ry="1.35"/>
<ellipse cx="483.4" cy="223.86" rx="1.25" ry="1.35"/>
<ellipse cx="532.66" cy="223.86" rx="1.25" ry="1.35"/>
<ellipse cx="581.92" cy="223.86" rx="1.25" ry="1.35"/>
<ellipse cx="631.17" cy="223.86" rx="1.25" ry="1.35"/>
<ellipse cx="680.43" cy="223.86" rx="1.25" ry="1.35"/>
<ellipse cx="926.72" cy="223.86" rx="1.25" ry="1.35"/>
<ellipse cx="1173.01" cy="223.86" rx="1.25" ry="1.35"/>
<ellipse cx="1222.27" cy="223.86" rx="1.25" ry="1.35"/>
<ellipse cx="1271.53" cy="223.86" rx="1.25" ry="1.35"/>
<ellipse cx="1320.79" cy="223.86" rx="1.25" ry="1.35"/>
<ellipse cx="1468.56" cy="223.86" rx="1.25" ry="1.35"/>
<ellipse cx="1517.82" cy="223.86" rx="1.25" ry="1.35"/>
<ellipse cx="1567.08" cy="223.86" rx="1.25" ry="1.35"/>
<ellipse cx="1665.59" cy="223.86" rx="1.25" ry="1.35"/>
<ellipse cx="1714.85" cy="223.86" rx="1.25" ry="1.35"/>
<ellipse cx="1813.37" cy="223.86" rx="1.25" ry="1.35"/>
<ellipse cx="1862.62" cy="223.86" rx="1.25" ry="1.35"/>
<ellipse cx="1911.88" cy="223.86" rx="1.25" ry="1.35"/>
<ellipse cx="1961.14" cy="223.86" rx="1.25" ry="1.35"/>
<ellipse cx="2010.4" cy="223.86" rx="1.25" ry="1.35"/>
<ellipse cx="2059.66" cy="223.86" rx="1.25" ry="1.35"/>
<ellipse cx="2108.91" cy="223.86" rx="1.25" ry="1.35"/>
<ellipse cx="2158.17" cy="223.86" rx="1.25" ry="1.35"/>
<ellipse cx="2207.43" cy="223.86" rx="1.25" ry="1.35"/>
<ellipse cx="2256.69" cy="223.86" rx="1.25" ry="1.35"/>
<ellipse cx="2305.95" cy="223.86" rx="1.25" ry="1.35"/>
<ellipse cx="2355.2" cy="223.86" rx="1.25" ry="1.35"/>
<ellipse cx="2404.46" cy="223.86" rx="1.25" ry="1.35"/>
<ellipse cx="2453.72" cy="223.86" rx="1.25" ry="1.35"/>
<ellipse cx="2502.98" cy="223.86" rx="1.25" ry="1.35"/>
<ellipse cx="2552.24" cy="223.86" rx="1.25" ry="1.35"/>
<ellipse cx="2601.49" cy="223.86" rx="1.25" ry="1.35"/>
<ellipse cx="2650.75" cy="223.86" rx="1.25" ry="1.35"/>
<ellipse cx="2700.01" cy="223.86" rx="1.25" ry="1.35"/>
<ellipse cx="2749.27" cy="223.86" rx="1.25" ry="1.35"/>
<ellipse cx="2798.53" cy="223.86" rx="1.25" ry="1.35"/>
<ellipse cx="2847.78" cy="223.86" rx="1.25" ry="1.35"/>
<ellipse cx="2897.04" cy="223.86" rx="1.25" ry="1.35"/>
<ellipse cx="2946.3" cy="223.86" rx="1.25" ry="1.35"/>
<ellipse cx="2995.56" cy="223.86" rx="1.25" ry="1.35"/>
<ellipse cx="3044.82" cy="223.86" rx="1.25" ry="1.35"/>
<ellipse cx="3094.07" cy="223.86" rx="1.25" ry="1.35"/>
<ellipse cx="3143.33" cy="223.86" rx="1.25" ry="1.35"/>
<ellipse cx="3192.59" cy="223.86" rx="1.25" ry="1.35"/>
<ellipse cx="483.4" cy="280.77" rx="1.25" ry="1.35"/>
<ellipse cx="532.66" cy="280.77" rx="1.25" ry="1.35"/>
<ellipse cx="581.92" cy="280.77" rx="1.25" ry="1.35"/>
<ellipse cx="631.17" cy="280.77" rx="1.25" ry="1.35"/>
<ellipse cx="680.43" cy="280.77" rx="1.25" ry="1.35"/>
<ellipse cx="729.69" cy="280.77" rx="1.25" ry="1.35"/>
<ellipse cx="778.95" cy="280.77" rx="1.25" ry="1.35"/>
<ellipse cx="828.21" cy="280.77" rx="1.25" ry="1.35"/>
<ellipse cx="877.46" cy="280.77" rx="1.25" ry="1.35"/>
<ellipse cx="975.98" cy="280.77" rx="1.25" ry="1.35"/>
<ellipse cx="1025.24" cy="280.77" rx="1.25" ry="1.35"/>
<ellipse cx="1074.5" cy="280.77" rx="1.25" ry="1.35"/>
<ellipse cx="1123.75" cy="280.77" rx="1.25" ry="1.35"/>
<ellipse cx="1173.01" cy="280.77" rx="1.25" ry="1.35"/>
<ellipse cx="1222.27" cy="280.77" rx="1.25" ry="1.35"/>
<ellipse cx="1271.53" cy="280.77" rx="1.25" ry="1.35"/>
<ellipse cx="1320.79" cy="280.77" rx="1.25" ry="1.35"/>
<ellipse cx="1370.04" cy="280.77" rx="1.25" ry="1.35"/>
<ellipse cx="1419.3" cy="280.77" rx="1.25" ry="1.35"/>
<ellipse cx="1468.56" cy="280.77" rx="1.25" ry="1.35"/>
<ellipse cx="1517.82" cy="280.77" rx="1.25" ry="1.35"/>
<ellipse cx="1567.08" cy="280.77" rx="1.25" ry="1.35"/>
<ellipse cx="1616.33" cy="280.77" rx="1.25" ry="1.35"/>
<ellipse cx="1665.59" cy="280.77" rx="1.25" ry="1.35"/>
<ellipse cx="1714.85" cy="280.77" rx="1.25" ry="1.35"/>
<ellipse cx="1764.11" cy="280.77" rx="1.25" ry="1.35"/>
<ellipse cx="1813.37" cy="280.77" rx="1.25" ry="1.35"/>
<ellipse cx="1862.62" cy="280.77" rx="1.25" ry="1.35"/>
<ellipse cx="1911.88" cy="280.77" rx="1.25" ry="1.35"/>
<ellipse cx="1961.14" cy="280.77" rx="1.25" ry="1.35"/>
<ellipse cx="2010.4" cy="280.77" rx="1.25" ry="1.35"/>
<ellipse cx="2059.66" cy="280.77" rx="1.25" ry="1.35"/>
<ellipse cx="2108.91" cy="280.77" rx="1.25" ry="1.35"/>
<ellipse cx="2158.17" cy="280.77" rx="1.25" ry="1.35"/>
<ellipse cx="2207.43" cy="280.77" rx="1.25" ry="1.35"/>
<ellipse cx="2256.69" cy="280.77" rx="1.25" ry="1.35"/>
<ellipse cx="2305.95" cy="280.77" rx="1.25" ry="1.35"/>
<ellipse cx="2355.2" cy="280.77" rx="1.25" ry="1.35"/>
<ellipse cx="2404.46" cy="280.77" rx="1.25" ry="1.35"/>
<ellipse cx="2453.72" cy="280.77" rx="1.25" ry="1.35"/>
<ellipse cx="2502.98" cy="280.77" rx="1.25" ry="1.35"/>
<ellipse cx="2552.24" cy="280.77" rx="1.25" ry="1.35"/>
<ellipse cx="2601.49" cy="280.77" rx="1.25" ry="1.35"/>
<ellipse cx="2650.75" cy="280.77" rx="1.25" ry="1.35"/>
<ellipse cx="2700.01" cy="280.77" rx="1.25" ry="1.35"/>
<ellipse cx="2749.27" cy="280.77" rx="1.25" ry="1.35"/>
<ellipse cx="2798.53" cy="280.77" rx="1.25" ry="1.35"/>
<ellipse cx="2847.78" cy="280.77" rx="1.25" ry="1.35"/>
<ellipse cx="2897.04" cy="280.77" rx="1.25" ry="1.35"/>
<ellipse cx="2946.3" cy="280.77" rx="1.25" ry="1.35"/>
<ellipse cx="2995.56" cy="280.77" rx="1.25" ry="1.35"/>
<ellipse cx="3044.82" cy="280.77" rx="1.25" ry="1.35"/>
<ellipse cx="3094.07" cy="280.77" rx="1.25" ry="1.35"/>
<ellipse cx="3143.33" cy="280.77" rx="1.25" ry="1.35"/>
<ellipse cx="3192.59" cy="280.77" rx="1.25" ry="1.35"/>
<ellipse cx="483.4" cy="337.68" rx="1.25" ry="1.35"/>
<ellipse cx="532.66" cy="337.68" rx="1.25" ry="1.35"/>
<ellipse cx="581.92" cy="337.68" rx="1.25" ry="1.35"/>
<ellipse cx="631.17" cy="337.68" rx="1.25" ry="1.35"/>
<ellipse cx="680.43" cy="337.68" rx="1.25" ry="1.35"/>
<ellipse cx="926.72" cy="337.68" rx="1.25" ry="1.35"/>
<ellipse cx="1271.53" cy="337.68" rx="1.25" ry="1.35"/>
<ellipse cx="1320.79" cy="337.68" rx="1.25" ry="1.35"/>
<ellipse cx="1468.56" cy="337.68" rx="1.25" ry="1.35"/>
<ellipse cx="1517.82" cy="337.68" rx="1.25" ry="1.35"/>
<ellipse cx="1567.08" cy="337.68" rx="1.25" ry="1.35"/>
<ellipse cx="1665.59" cy="337.68" rx="1.25" ry="1.35"/>
<ellipse cx="1714.85" cy="337.68" rx="1.25" ry="1.35"/>
<ellipse cx="1862.62" cy="337.68" rx="1.25" ry="1.35"/>
<ellipse cx="1911.88" cy="337.68" rx="1.25" ry="1.35"/>
<ellipse cx="1961.14" cy="337.68" rx="1.25" ry="1.35"/>
<ellipse cx="2010.4" cy="337.68" rx="1.25" ry="1.35"/>
<ellipse cx="2059.66" cy="337.68" rx="1.25" ry="1.35"/>
<ellipse cx="2108.91" cy="337.68" rx="1.25" ry="1.35"/>
<ellipse cx="2158.17" cy="337.68" rx="1.25" ry="1.35"/>
<ellipse cx="2207.43" cy="337.68" rx="1.25" ry="1.35"/>
<ellipse cx="2305.95" cy="337.68" rx="1.25" ry="1.35"/>
<ellipse cx="2355.2" cy="337.68" rx="1.25" ry="1.35"/>
<ellipse cx="2404.46" cy="337.68" rx="1.25" ry="1.35"/>
<ellipse cx="2453.72" cy="337.68" rx="1.25" ry="1.35"/>
<ellipse cx="2502.98" cy="337.68" rx="1.25" ry="1.35"/>
<ellipse cx="2552.24" cy="337.68" rx="1.25" ry="1.35"/>
<ellipse cx="2601.49" cy="337.68" rx="1.25" ry="1.35"/>
<ellipse cx="2650.75" cy="337.68" rx="1.25" ry="1.35"/>
<ellipse cx="2700.01" cy="337.68" rx="1.25" ry="1.35"/>
<ellipse cx="2749.27" cy="337.68" rx="1.25" ry="1.35"/>
<ellipse cx="2798.53" cy="337.68" rx="1.25" ry="1.35"/>
<ellipse cx="2847.78" cy="337.68" rx="1.25" ry="1.35"/>
<ellipse cx="2897.04" cy="337.68" rx="1.25" ry="1.35"/>
<ellipse cx="2995.56" cy="337.68" rx="1.25" ry="1.35"/>
<ellipse cx="3044.82" cy="337.68" rx="1.25" ry="1.35"/>
<ellipse cx="3094.07" cy="337.68" rx="1.25" ry="1.35"/>
<ellipse cx="3143.33" cy="337.68" rx="1.25" ry="1.35"/>
<ellipse cx="3192.59" cy="337.68" rx="1.25" ry="1.35"/>
<ellipse cx="483.4" cy="394.59" rx="1.25" ry="1.35"/>
<ellipse cx="532.66" cy="394.59" rx="1.25" ry="1.35"/>
<ellipse cx="581.92" cy="394.59" rx="1.25" ry="1.35"/>
<ellipse cx="631.17" cy="394.59" rx="1.25" ry="1.35"/>
<ellipse cx="680.43" cy="394.59" rx="1.25" ry="1.35"/>
<ellipse cx="926.72" cy="394.59" rx="1.25" ry="1.35"/>
<ellipse cx="1320.79" cy="394.59" rx="1.25" ry="1.35"/>
<ellipse cx="1468.56" cy="394.59" rx="1.25" ry="1.35"/>
<ellipse cx="1517.82" cy="394.59" rx="1.25" ry="1.35"/>
<ellipse cx="1567.08" cy="394.59" rx="1.25" ry="1.35"/>
<ellipse cx="1764.11" cy="394.59" rx="1.25" ry="1.35"/>
<ellipse cx="1961.14" cy="394.59" rx="1.25" ry="1.35"/>
<ellipse cx="2010.4" cy="394.59" rx="1.25" ry="1.35"/>
<ellipse cx="2059.66" cy="394.59" rx="1.25" ry="1.35"/>
<ellipse cx="2108.91" cy="394.59" rx="1.25" ry="1.35"/>
<ellipse cx="2158.17" cy="394.59" rx="1.25" ry="1.35"/>
<ellipse cx="2207.43" cy="394.59" rx="1.25" ry="1.35"/>
<ellipse cx="2601.49" cy="394.59" rx="1.25" ry="1.35"/>
<ellipse cx="2650.75" cy="394.59" rx="1.25" ry="1.35"/>
<ellipse cx="2700.01" cy="394.59" rx="1.25" ry="1.35"/>
<ellipse cx="2749.27" cy="394.59" rx="1.25" ry="1.35"/>
<ellipse cx="2798.53" cy="394.59" rx="1.25" ry="1.35"/>
<ellipse cx="2847.78" cy="394.59" rx="1.25" ry="1.35"/>
<ellipse cx="2995.56" cy="394.59" rx="1.25" ry="1.35"/>
<ellipse cx="3044.82" cy="394.59" rx="1.25" ry="1.35"/>
<ellipse cx="3094.07" cy="394.59" rx="1.25" ry="1.35"/>
<ellipse cx="3143.33" cy="394.59" rx="1.25" ry="1.35"/>
<ellipse cx="3192.59" cy="394.59" rx="1.25" ry="1.35"/>
<ellipse cx="483.4" cy="451.5" rx="1.25" ry="1.35"/>
<ellipse cx="532.66" cy="451.5" rx="1.25" ry="1.35"/>
<ellipse cx="581.92" cy="451.5" rx="1.25" ry="1.35"/>
<ellipse cx="631.17" cy="451.5" rx="1.25" ry="1.35"/>
<ellipse cx="680.43" cy="451.5" rx="1.25" ry="1.35"/>
<ellipse cx="729.69" cy="451.5" rx="1.25" ry="1.35"/>
<ellipse cx="778.95" cy="451.5" rx="1.25" ry="1.35"/>
<ellipse cx="828.21" cy="451.5" rx="1.25" ry="1.35"/>
<ellipse cx="877.46" cy="451.5" rx="1.25" ry="1.35"/>
<ellipse cx="926.72" cy="451.5" rx="1.25" ry="1.35"/>
<ellipse cx="975.98" cy="451.5" rx="1.25" ry="1.35"/>
<ellipse cx="1025.24" cy="451.5" rx="1.25" ry="1.35"/>
<ellipse cx="1074.5" cy="451.5" rx="1.25" ry="1.35"/>
<ellipse cx="1123.75" cy="451.5" rx="1.25" ry="1.35"/>
<ellipse cx="1173.01" cy="451.5" rx="1.25" ry="1.35"/>
<ellipse cx="1222.27" cy="451.5" rx="1.25" ry="1.35"/>
<ellipse cx="1271.53" cy="451.5" rx="1.25" ry="1.35"/>
<ellipse cx="1320.79" cy="451.5" rx="1.25" ry="1.35"/>
<ellipse cx="1370.04" cy="451.5" rx="1.25" ry="1.35"/>
<ellipse cx="1419.3" cy="451.5" rx="1.25" ry="1.35"/>
<ellipse cx="1468.56" cy="451.5" rx="1.25" ry="1.35"/>
<ellipse cx="1517.82" cy="451.5" rx="1.25" ry="1.35"/>
<ellipse cx="1567.08" cy="451.5" rx="1.25" ry="1.35"/>
<ellipse cx="1665.59" cy="451.5" rx="1.25" ry="1.35"/>
<ellipse cx="1714.85" cy="451.5" rx="1.25" ry="1.35"/>
<ellipse cx="1813.37" cy="451.5" rx="1.25" ry="1.35"/>
<ellipse cx="1862.62" cy="451.5" rx="1.25" ry="1.35"/>
<ellipse cx="1911.88" cy="451.5" rx="1.25" ry="1.35"/>
<ellipse cx="1961.14" cy="451.5" rx="1.25" ry="1.35"/>
<ellipse cx="2010.4" cy="451.5" rx="1.25" ry="1.35"/>
<ellipse cx="2059.66" cy="451.5" rx="1.25" ry="1.35"/>
<ellipse cx="2108.91" cy="451.5" rx="1.25" ry="1.35"/>
<ellipse cx="2158.17" cy="451.5" rx="1.25" ry="1.35"/>
<ellipse cx="2207.43" cy="451.5" rx="1.25" ry="1.35"/>
<ellipse cx="2256.69" cy="451.5" rx="1.25" ry="1.35"/>
<ellipse cx="2305.95" cy="451.5" rx="1.25" ry="1.35"/>
<ellipse cx="2355.2" cy="451.5" rx="1.25" ry="1.35"/>
<ellipse cx="2404.46" cy="451.5" rx="1.25" ry="1.35"/>
<ellipse cx="2453.72" cy="451.5" rx="1.25" ry="1.35"/>
<ellipse cx="2502.98" cy="451.5" rx="1.25" ry="1.35"/>
<ellipse cx="2552.24" cy="451.5" rx="1.25" ry="1.35"/>
<ellipse cx="2601.49" cy="451.5" rx="1.25" ry="1.35"/>
<ellipse cx="2650.75" cy="451.5" rx="1.25" ry="1.35"/>
<ellipse cx="2700.01" cy="451.5" rx="1.25" ry="1.35"/>
<ellipse cx="2749.27" cy="451.5" rx="1.25" ry="1.35"/>
<ellipse cx="2798.53" cy="451.5" rx="1.25" ry="1.35"/>
<ellipse cx="2847.78" cy="451.5" rx="1.25" ry="1.35"/>
<ellipse cx="2897.04" cy="451.5" rx="1.25" ry="1.35"/>
<ellipse cx="2946.3" cy="451.5" rx="1.25" ry="1.35"/>
<ellipse cx="2995.56" cy="451.5" rx="1.25" ry="1.35"/>
<ellipse cx="3044.82" cy="451.5" rx="1.25" ry="1.35"/>
<ellipse cx="3094.07" cy="451.5" rx="1.25" ry="1.35"/>
<ellipse cx="3143.33" cy="451.5" rx="1.25" ry="1.35"/>
<ellipse cx="3192.59" cy="451.5" rx="1.25" ry="1.35"/>
<ellipse cx="483.4" cy="508.41" rx="1.25" ry="1.35"/>
<ellipse cx="532.66" cy="508.41" rx="1.25" ry="1.35"/>
<ellipse cx="581.92" cy="508.41" rx="1.25" ry="1.35"/>
<ellipse cx="631.17" cy="508.41" rx="1.25" ry="1.35"/>
<ellipse cx="680.43" cy="508.41" rx="1.25" ry="1.35"/>
<ellipse cx="1320.79" cy="508.41" rx="1.25" ry="1.35"/>
<ellipse cx="1468.56" cy="508.41" rx="1.25" ry="1.35"/>
<ellipse cx="1517.82" cy="508.41" rx="1.25" ry="1.35"/>
<ellipse cx="1961.14" cy="508.41" rx="1.25" ry="1.35"/>
<ellipse cx="2010.4" cy="508.41" rx="1.25" ry="1.35"/>
<ellipse cx="2059.66" cy="508.41" rx="1.25" ry="1.35"/>
<ellipse cx="2108.91" cy="508.41" rx="1.25" ry="1.35"/>
<ellipse cx="2158.17" cy="508.41" rx="1.25" ry="1.35"/>
<ellipse cx="2207.43" cy="508.41" rx="1.25" ry="1.35"/>
<ellipse cx="2256.69" cy="508.41" rx="1.25" ry="1.35"/>
<ellipse cx="2305.95" cy="508.41" rx="1.25" ry="1.35"/>
<ellipse cx="2355.2" cy="508.41" rx="1.25" ry="1.35"/>
<ellipse cx="2404.46" cy="508.41" rx="1.25" ry="1.35"/>
<ellipse cx="2552.24" cy="508.41" rx="1.25" ry="1.35"/>
<ellipse cx="2601.49" cy="508.41" rx="1.25" ry="1.35"/>
<ellipse cx="2650.75" cy="508.41" rx="1.25" ry="1.35"/>
<ellipse cx="2700.01" cy="508.41" rx="1.25" ry="1.35"/>
<ellipse cx="2749.27" cy="508.41" rx="1.25" ry="1.35"/>
<ellipse cx="2798.53" cy="508.41" rx="1.25" ry="1.35"/>
<ellipse cx="2847.78" cy="508.41" rx="1.25" ry="1.35"/>
<ellipse cx="2995.56" cy="508.41" rx="1.25" ry="1.35"/>
<ellipse cx="3044.82" cy="508.41" rx="1.25" ry="1.35"/>
<ellipse cx="3094.07" cy="508.41" rx="1.25" ry="1.35"/>
<ellipse cx="3143.33" cy="508.41" rx="1.25" ry="1.35"/>
<ellipse cx="3192.59" cy="508.41" rx="1.25" ry="1.35"/>
<ellipse cx="483.4" cy="565.32" rx="1.25" ry="1.35"/>
<ellipse cx="532.66" cy="565.32" rx="1.25" ry="1.35"/>
<ellipse cx="581.92" cy="565.32" rx="1.25" ry="1.35"/>
<ellipse cx="631.17" cy="565.32" rx="1.25" ry="1.35"/>
<ellipse cx="680.43" cy="565.32" rx="1.25" ry="1.35"/>
<ellipse cx="729.69" cy="565.32" rx="1.25" ry="1.35"/>
<ellipse cx="778.95" cy="565.32" rx="1.25" ry="1.35"/>
<ellipse cx="828.21" cy="565.32" rx="1.25" ry="1.35"/>
<ellipse cx="877.46" cy="565.32" rx="1.25" ry="1.35"/>
<ellipse cx="926.72" cy="565.32" rx="1.25" ry="1.35"/>
<ellipse cx="975.98" cy="565.32" rx="1.25" ry="1.35"/>
<ellipse cx="1025.24" cy="565.32" rx="1.25" ry="1.35"/>
<ellipse cx="1173.01" cy="565.32" rx="1.25" ry="1.35"/>
<ellipse cx="1222.27" cy="565.32" rx="1.25" ry="1.35"/>
<ellipse cx="1271.53" cy="565.32" rx="1.25" ry="1.35"/>
<ellipse cx="1320.79" cy="565.32" rx="1.25" ry="1.35"/>
<ellipse cx="1370.04" cy="565.32" rx="1.25" ry="1.35"/>
<ellipse cx="1419.3" cy="565.32" rx="1.25" ry="1.35"/>
<ellipse cx="1468.56" cy="565.32" rx="1.25" ry="1.35"/>
<ellipse cx="1517.82" cy="565.32" rx="1.25" ry="1.35"/>
<ellipse cx="1567.08" cy="565.32" rx="1.25" ry="1.35"/>
<ellipse cx="1665.59" cy="565.32" rx="1.25" ry="1.35"/>
<ellipse cx="1714.85" cy="565.32" rx="1.25" ry="1.35"/>
<ellipse cx="1764.11" cy="565.32" rx="1.25" ry="1.35"/>
<ellipse cx="1813.37" cy="565.32" rx="1.25" ry="1.35"/>
<ellipse cx="1862.62" cy="565.32" rx="1.25" ry="1.35"/>
<ellipse cx="1911.88" cy="565.32" rx="1.25" ry="1.35"/>
<ellipse cx="1961.14" cy="565.32" rx="1.25" ry="1.35"/>
<ellipse cx="2010.4" cy="565.32" rx="1.25" ry="1.35"/>
<ellipse cx="2059.66" cy="565.32" rx="1.25" ry="1.35"/>
<ellipse cx="2108.91" cy="565.32" rx="1.25" ry="1.35"/>
<ellipse cx="2158.17" cy="565.32" rx="1.25" ry="1.35"/>
<ellipse cx="2207.43" cy="565.32" rx="1.25" ry="1.35"/>
<ellipse cx="2256.69" cy="565.32" rx="1.25" ry="1.35"/>
<ellipse cx="2305.95" cy="565.32" rx="1.25" ry="1.35"/>
<ellipse cx="2355.2" cy="565.32" rx="1.25" ry="1.35"/>
<ellipse cx="2404.46" cy="565.32" rx="1.25" ry="1.35"/>
<ellipse cx="2453.72" cy="565.32" rx="1.25" ry="1.35"/>
<ellipse cx="2502.98" cy="565.32" rx="1.25" ry="1.35"/>
<ellipse cx="2552.24" cy="565.32" rx="1.25" ry="1.35"/>
<ellipse cx="2601.49" cy="565.32" rx="1.25" ry="1.35"/>
<ellipse cx="2650.75" cy="565.32" rx="1.25" ry="1.35"/>
<ellipse cx="2700.01" cy="565.32" rx="1.25" ry="1.35"/>
<ellipse cx="2749.27" cy="565.32" rx="1.25" ry="1.35"/>
<ellipse cx="2798.53" cy="565.32" rx="1.25" ry="1.35"/>
<ellipse cx="2847.78" cy="565.32" rx="1.25" ry="1.35"/>
<ellipse cx="2897.04" cy="565.32" rx="1.25" ry="1.35"/>
<ellipse cx="2946.3" cy="565.32" rx="1.25" ry="1.35"/>
<ellipse cx="2995.56" cy="565.32" rx="1.25" ry="1.35"/>
<ellipse cx="3044.82" cy="565.32" rx="1.25" ry="1.35"/>
<ellipse cx="3094.07" cy="565.32" rx="1.25" ry="1.35"/>
<ellipse cx="3143.33" cy="565.32" rx="1.25" ry="1.35"/>
<ellipse cx="3192.59" cy="565.32" rx="1.25" ry="1.35"/>
<ellipse cx="729.69" cy="622.23" rx="1.25" ry="1.35"/>
<ellipse cx="778.95" cy="622.23" rx="1.25" ry="1.35"/>
<ellipse cx="828.21" cy="622.23" rx="1.25" ry="1.35"/>
<ellipse cx="877.46" cy="622.23" rx="1.25" ry="1.35"/>
<ellipse cx="975.98" cy="622.23" rx="1.25" ry="1.35"/>
<ellipse cx="1025.24" cy="622.23" rx="1.25" ry="1.35"/>
<ellipse cx="1074.5" cy="622.23" rx="1.25" ry="1.35"/>
<ellipse cx="1123.75" cy="622.23" rx="1.25" ry="1.35"/>
<ellipse cx="1173.01" cy="622.23" rx="1.25" ry="1.35"/>
<ellipse cx="1222.27" cy="622.23" rx="1.25" ry="1.35"/>
<ellipse cx="1320.79" cy="622.23" rx="1.25" ry="1.35"/>
<ellipse cx="1370.04" cy="622.23" rx="1.25" ry="1.35"/>
<ellipse cx="1419.3" cy="622.23" rx="1.25" ry="1.35"/>
<ellipse cx="1468.56" cy="622.23" rx="1.25" ry="1.35"/>
<ellipse cx="1517.82" cy="622.23" rx="1.25" ry="1.35"/>
<ellipse cx="1665.59" cy="622.23" rx="1.25" ry="1.35"/>
<ellipse cx="1714.85" cy="622.23" rx="1.25" ry="1.35"/>
<ellipse cx="483.4" cy="679.14" rx="1.25" ry="1.35"/>
<ellipse cx="532.66" cy="679.14" rx="1.25" ry="1.35"/>
<ellipse cx="581.92" cy="679.14" rx="1.25" ry="1.35"/>
<ellipse cx="631.17" cy="679.14" rx="1.25" ry="1.35"/>
<ellipse cx="680.43" cy="679.14" rx="1.25" ry="1.35"/>
<ellipse cx="729.69" cy="679.14" rx="1.25" ry="1.35"/>
<ellipse cx="778.95" cy="679.14" rx="1.25" ry="1.35"/>
<ellipse cx="828.21" cy="679.14" rx="1.25" ry="1.35"/>
<ellipse cx="877.46" cy="679.14" rx="1.25" ry="1.35"/>
<ellipse cx="926.72" cy="679.14" rx="1.25" ry="1.35"/>
<ellipse cx="975.98" cy="679.14" rx="1.25" ry="1.35"/>
<ellipse cx="1025.24" cy="679.14" rx="1.25" ry="1.35"/>
<ellipse cx="1074.5" cy="679.14" rx="1.25" ry="1.35"/>
<ellipse cx="1123.75" cy="679.14" rx="1.25" ry="1.35"/>
<ellipse cx="1173.01" cy="679.14" rx="1.25" ry="1.35"/>
<ellipse cx="1222.27" cy="679.14" rx="1.25" ry="1.35"/>
<ellipse cx="1271.53" cy="679.14" rx="1.25" ry="1.35"/>
<ellipse cx="1320.79" cy="679.14" rx="1.25" ry="1.35"/>
<ellipse cx="1370.04" cy="679.14" rx="1.25" ry="1.35"/>
<ellipse cx="1419.3" cy="679.14" rx="1.25" ry="1.35"/>
<ellipse cx="1468.56" cy="679.14" rx="1.25" ry="1.35"/>
<ellipse cx="1517.82" cy="679.14" rx="1.25" ry="1.35"/>
<ellipse cx="1567.08" cy="679.14" rx="1.25" ry="1.35"/>
<ellipse cx="1665.59" cy="679.14" rx="1.25" ry="1.35"/>
<ellipse cx="1714.85" cy="679.14" rx="1.25" ry="1.35"/>
<ellipse cx="1862.62" cy="679.14" rx="1.25" ry="1.35"/>
<ellipse cx="1911.88" cy="679.14" rx="1.25" ry="1.35"/>
<ellipse cx="1961.14" cy="679.14" rx="1.25" ry="1.35"/>
<ellipse cx="2010.4" cy="679.14" rx="1.25" ry="1.35"/>
<ellipse cx="2059.66" cy="679.14" rx="1.25" ry="1.35"/>
<ellipse cx="2108.91" cy="679.14" rx="1.25" ry="1.35"/>
<ellipse cx="2158.17" cy="679.14" rx="1.25" ry="1.35"/>
<ellipse cx="2207.43" cy="679.14" rx="1.25" ry="1.35"/>
<ellipse cx="2256.69" cy="679.14" rx="1.25" ry="1.35"/>
<ellipse cx="2305.95" cy="679.14" rx="1.25" ry="1.35"/>
<ellipse cx="2355.2" cy="679.14" rx="1.25" ry="1.35"/>
<ellipse cx="2404.46" cy="679.14" rx="1.25" ry="1.35"/>
<ellipse cx="2453.72" cy="679.14" rx="1.25" ry="1.35"/>
<ellipse cx="2502.98" cy="679.14" rx="1.25" ry="1.35"/>
<ellipse cx="2552.24" cy="679.14" rx="1.25" ry="1.35"/>
<ellipse cx="2601.49" cy="679.14" rx="1.25" ry="1.35"/>
<ellipse cx="2650.75" cy="679.14" rx="1.25" ry="1.35"/>
<ellipse cx="2700.01" cy="679.14" rx="1.25" ry="1.35"/>
<ellipse cx="2749.27" cy="679.14" rx="1.25" ry="1.35"/>
<ellipse cx="2798.53" cy="679.14" rx="1.25" ry="1.35"/>
<ellipse cx="2847.78" cy="679.14" rx="1.25" ry="1.35"/>
<ellipse cx="2897.04" cy="679.14" rx="1.25" ry="1.35"/>
<ellipse cx="2946.3" cy="679.14" rx="1.25" ry="1.35"/>
<ellipse cx="2995.56" cy="679.14" rx="1.25" ry="1.35"/>
<ellipse cx="3044.82" cy="679.14" rx="1.25" ry="1.35"/>
<ellipse cx="3094.07" cy="679.14" rx="1.25" ry="1.35"/>
<ellipse cx="3143.33" cy="679.14" rx="1.25" ry="1.35"/>
<ellipse cx="3192.59" cy="679.14" rx="1.25" ry="1.35"/>
<ellipse cx="483.4" cy="736.05" rx="1.25" ry="1.35"/>
<ellipse cx="532.66" cy="736.05" rx="1.25" ry="1.35"/>
<ellipse cx="581.92" cy="736.05" rx="1.25" ry="1.35"/>
<ellipse cx="631.17" cy="736.05" rx="1.25" ry="1.35"/>
<ellipse cx="680.43" cy="736.05" rx="1.25" ry="1.35"/>
<ellipse cx="729.69" cy="736.05" rx="1.25" ry="1.35"/>
<ellipse cx="778.95" cy="736.05" rx="1.25" ry="1.35"/>
<ellipse cx="828.21" cy="736.05" rx="1.25" ry="1.35"/>
<ellipse cx="877.46" cy="736.05" rx="1.25" ry="1.35"/>
<ellipse cx="926.72" cy="736.05" rx="1.25" ry="1.35"/>
<ellipse cx="975.98" cy="736.05" rx="1.25" ry="1.35"/>
<ellipse cx="1025.24" cy="736.05" rx="1.25" ry="1.35"/>
<ellipse cx="1074.5" cy="736.05" rx="1.25" ry="1.35"/>
<ellipse cx="1123.75" cy="736.05" rx="1.25" ry="1.35"/>
<ellipse cx="1173.01" cy="736.05" rx="1.25" ry="1.35"/>
<ellipse cx="1222.27" cy="736.05" rx="1.25" ry="1.35"/>
<ellipse cx="1320.79" cy="736.05" rx="1.25" ry="1.35"/>
<ellipse cx="1370.04" cy="736.05" rx="1.25" ry="1.35"/>
<ellipse cx="1419.3" cy="736.05" rx="1.25" ry="1.35"/>
<ellipse cx="1468.56" cy="736.05" rx="1.25" ry="1.35"/>
<ellipse cx="1517.82" cy="736.05" rx="1.25" ry="1.35"/>
<ellipse cx="1567.08" cy="736.05" rx="1.25" ry="1.35"/>
<ellipse cx="1616.33" cy="736.05" rx="1.25" ry="1.35"/>
<ellipse cx="1665.59" cy="736.05" rx="1.25" ry="1.35"/>
<ellipse cx="1714.85" cy="736.05" rx="1.25" ry="1.35"/>
<ellipse cx="1764.11" cy="736.05" rx="1.25" ry="1.35"/>
<ellipse cx="1862.62" cy="736.05" rx="1.25" ry="1.35"/>
<ellipse cx="1911.88" cy="736.05" rx="1.25" ry="1.35"/>
<ellipse cx="1961.14" cy="736.05" rx="1.25" ry="1.35"/>
<ellipse cx="2010.4" cy="736.05" rx="1.25" ry="1.35"/>
<ellipse cx="2059.66" cy="736.05" rx="1.25" ry="1.35"/>
<ellipse cx="2108.91" cy="736.05" rx="1.25" ry="1.35"/>
<ellipse cx="2158.17" cy="736.05" rx="1.25" ry="1.35"/>
<ellipse cx="2207.43" cy="736.05" rx="1.25" ry="1.35"/>
<ellipse cx="2453.72" cy="736.05" rx="1.25" ry="1.35"/>
<ellipse cx="2502.98" cy="736.05" rx="1.25" ry="1.35"/>
<ellipse cx="2552.24" cy="736.05" rx="1.25" ry="1.35"/>
<ellipse cx="2601.49" cy="736.05" rx="1.25" ry="1.35"/>
<ellipse cx="2650.75" cy="736.05" rx="1.25" ry="1.35"/>
<ellipse cx="2700.01" cy="736.05" rx="1.25" ry="1.35"/>
<ellipse cx="2749.27" cy="736.05" rx="1.25" ry="1.35"/>
<ellipse cx="2798.53" cy="736.05" rx="1.25" ry="1.35"/>
<ellipse cx="2847.78" cy="736.05" rx="1.25" ry="1.35"/>
<ellipse cx="2995.56" cy="736.05" rx="1.25" ry="1.35"/>
<ellipse cx="3044.82" cy="736.05" rx="1.25" ry="1.35"/>
<ellipse cx="3094.07" cy="736.05" rx="1.25" ry="1.35"/>
<ellipse cx="3143.33" cy="736.05" rx="1.25" ry="1.35"/>
<ellipse cx="3192.59" cy="736.05" rx="1.25" ry="1.35"/>
<ellipse cx="483.4" cy="792.96" rx="1.25" ry="1.35"/>
<ellipse cx="532.66" cy="792.96" rx="1.25" ry="1.35"/>
<ellipse cx="581.92" cy="792.96" rx="1.25" ry="1.35"/>
<ellipse cx="631.17" cy="792.96" rx="1.25" ry="1.35"/>
<ellipse cx="680.43" cy="792.96" rx="1.25" ry="1.35"/>
<ellipse cx="729.69" cy="792.96" rx="1.25" ry="1.35"/>
<ellipse cx="778.95" cy="792.96" rx="1.25" ry="1.35"/>
<ellipse cx="828.21" cy="792.96" rx="1.25" ry="1.35"/>
<ellipse cx="877.46" cy="792.96" rx="1.25" ry="1.35"/>
<ellipse cx="926.72" cy="792.96" rx="1.25" ry="1.35"/>
<ellipse cx="975.98" cy="792.96" rx="1.25" ry="1.35"/>
<ellipse cx="1025.24" cy="792.96" rx="1.25" ry="1.35"/>
<ellipse cx="1074.5" cy="792.96" rx="1.25" ry="1.35"/>
<ellipse cx="1123.75" cy="792.96" rx="1.25" ry="1.35"/>
<ellipse cx="1173.01" cy="792.96" rx="1.25" ry="1.35"/>
<ellipse cx="1222.27" cy="792.96" rx="1.25" ry="1.35"/>
<ellipse cx="1271.53" cy="792.96" rx="1.25" ry="1.35"/>
<ellipse cx="1320.79" cy="792.96" rx="1.25" ry="1.35"/>
<ellipse cx="1370.04" cy="792.96" rx="1.25" ry="1.35"/>
<ellipse cx="1419.3" cy="792.96" rx="1.25" ry="1.35"/>
<ellipse cx="1468.56" cy="792.96" rx="1.25" ry="1.35"/>
<ellipse cx="1517.82" cy="792.96" rx="1.25" ry="1.35"/>
<ellipse cx="1567.08" cy="792.96" rx="1.25" ry="1.35"/>
<ellipse cx="1616.33" cy="792.96" rx="1.25" ry="1.35"/>
<ellipse cx="1665.59" cy="792.96" rx="1.25" ry="1.35"/>
<ellipse cx="1714.85" cy="792.96" rx="1.25" ry="1.35"/>
<ellipse cx="1813.37" cy="792.96" rx="1.25" ry="1.35"/>
<ellipse cx="1862.62" cy="792.96" rx="1.25" ry="1.35"/>
<ellipse cx="1911.88" cy="792.96" rx="1.25" ry="1.35"/>
<ellipse cx="1961.14" cy="792.96" rx="1.25" ry="1.35"/>
<ellipse cx="2010.4" cy="792.96" rx="1.25" ry="1.35"/>
<ellipse cx="2059.66" cy="792.96" rx="1.25" ry="1.35"/>
<ellipse cx="2108.91" cy="792.96" rx="1.25" ry="1.35"/>
<ellipse cx="2158.17" cy="792.96" rx="1.25" ry="1.35"/>
<ellipse cx="2207.43" cy="792.96" rx="1.25" ry="1.35"/>
<ellipse cx="2256.69" cy="792.96" rx="1.25" ry="1.35"/>
<ellipse cx="2305.95" cy="792.96" rx="1.25" ry="1.35"/>
<ellipse cx="2355.2" cy="792.96" rx="1.25" ry="1.35"/>
<ellipse cx="2404.46" cy="792.96" rx="1.25" ry="1.35"/>
<ellipse cx="2453.72" cy="792.96" rx="1.25" ry="1.35"/>
<ellipse cx="2502.98" cy="792.96" rx="1.25" ry="1.35"/>
<ellipse cx="2552.24" cy="792.96" rx="1.25" ry="1.35"/>
<ellipse cx="2601.49" cy="792.96" rx="1.25" ry="1.35"/>
<ellipse cx="2650.75" cy="792.96" rx="1.25" ry="1.35"/>
<ellipse cx="2700.01" cy="792.96" rx="1.25" ry="1.35"/>
<ellipse cx="2749.27" cy="792.96" rx="1.25" ry="1.35"/>
<ellipse cx="2798.53" cy="792.96" rx="1.25" ry="1.35"/>
<ellipse cx="2847.78" cy="792.96" rx="1.25" ry="1.35"/>
<ellipse cx="2897.04" cy="792.96" rx="1.25" ry="1.35"/>
<ellipse cx="2946.3" cy="792.96" rx="1.25" ry="1.35"/>
<ellipse cx="2995.56" cy="792.96" rx="1.25" ry="1.35"/>
<ellipse cx="3044.82" cy="792.96" rx="1.25" ry="1.35"/>
<ellipse cx="3094.07" cy="792.96" rx="1.25" ry="1.35"/>
<ellipse cx="3143.33" cy="792.96" rx="1.25" ry="1.35"/>
<ellipse cx="3192.59" cy="792.96" rx="1.25" ry="1.35"/>
<ellipse cx="483.4" cy="849.87" rx="1.25" ry="1.35"/>
<ellipse cx="532.66" cy="849.87" rx="1.25" ry="1.35"/>
<ellipse cx="581.92" cy="849.87" rx="1.25" ry="1.35"/>
<ellipse cx="631.17" cy="849.87" rx="1.25" ry="1.35"/>
<ellipse cx="680.43" cy="849.87" rx="1.25" ry="1.35"/>
<ellipse cx="926.72" cy="849.87" rx="1.25" ry="1.35"/>
<ellipse cx="1074.5" cy="849.87" rx="1.25" ry="1.35"/>
<ellipse cx="1123.75" cy="849.87" rx="1.25" ry="1.35"/>
<ellipse cx="1271.53" cy="849.87" rx="1.25" ry="1.35"/>
<ellipse cx="1320.79" cy="849.87" rx="1.25" ry="1.35"/>
<ellipse cx="1468.56" cy="849.87" rx="1.25" ry="1.35"/>
<ellipse cx="1517.82" cy="849.87" rx="1.25" ry="1.35"/>
<ellipse cx="1567.08" cy="849.87" rx="1.25" ry="1.35"/>
<ellipse cx="1616.33" cy="849.87" rx="1.25" ry="1.35"/>
<ellipse cx="1665.59" cy="849.87" rx="1.25" ry="1.35"/>
<ellipse cx="1714.85" cy="849.87" rx="1.25" ry="1.35"/>
<ellipse cx="1764.11" cy="849.87" rx="1.25" ry="1.35"/>
<ellipse cx="1961.14" cy="849.87" rx="1.25" ry="1.35"/>
<ellipse cx="2010.4" cy="849.87" rx="1.25" ry="1.35"/>
<ellipse cx="2059.66" cy="849.87" rx="1.25" ry="1.35"/>
<ellipse cx="2108.91" cy="849.87" rx="1.25" ry="1.35"/>
<ellipse cx="2158.17" cy="849.87" rx="1.25" ry="1.35"/>
<ellipse cx="2207.43" cy="849.87" rx="1.25" ry="1.35"/>
<ellipse cx="2355.2" cy="849.87" rx="1.25" ry="1.35"/>
<ellipse cx="2404.46" cy="849.87" rx="1.25" ry="1.35"/>
<ellipse cx="2453.72" cy="849.87" rx="1.25" ry="1.35"/>
<ellipse cx="2502.98" cy="849.87" rx="1.25" ry="1.35"/>
<ellipse cx="2552.24" cy="849.87" rx="1.25" ry="1.35"/>
<ellipse cx="2601.49" cy="849.87" rx="1.25" ry="1.35"/>
<ellipse cx="2650.75" cy="849.87" rx="1.25" ry="1.35"/>
<ellipse cx="2700.01" cy="849.87" rx="1.25" ry="1.35"/>
<ellipse cx="2749.27" cy="849.87" rx="1.25" ry="1.35"/>
<ellipse cx="2798.53" cy="849.87" rx="1.25" ry="1.35"/>
<ellipse cx="2847.78" cy="849.87" rx="1.25" ry="1.35"/>
<ellipse cx="2995.56" cy="849.87" rx="1.25" ry="1.35"/>
<ellipse cx="3044.82" cy="849.87" rx="1.25" ry="1.35"/>
<ellipse cx="3094.07" cy="849.87" rx="1.25" ry="1.35"/>
<ellipse cx="3143.33" cy="849.87" rx="1.25" ry="1.35"/>
<ellipse cx="3192.59" cy="849.87" rx="1.25" ry="1.35"/>
<ellipse cx="483.4" cy="906.78" rx="1.25" ry="1.35"/>
<ellipse cx="532.66" cy="906.78" rx="1.25" ry="1.35"/>
<ellipse cx="581.92" cy="906.78" rx="1.25" ry="1.35"/>
<ellipse cx="631.17" cy="906.78" rx="1.25" ry="1.35"/>
<ellipse cx="680.43" cy="906.78" rx="1.25" ry="1.35"/>
<ellipse cx="926.72" cy="906.78" rx="1.25" ry="1.35"/>
<ellipse cx="1567.08" cy="906.78" rx="1.25" ry="1.35"/>
<ellipse cx="1961.14" cy="906.78" rx="1.25" ry="1.35"/>
<ellipse cx="2010.4" cy="906.78" rx="1.25" ry="1.35"/>
<ellipse cx="2059.66" cy="906.78" rx="1.25" ry="1.35"/>
<ellipse cx="2108.91" cy="906.78" rx="1.25" ry="1.35"/>
<ellipse cx="2158.17" cy="906.78" rx="1.25" ry="1.35"/>
<ellipse cx="2207.43" cy="906.78" rx="1.25" ry="1.35"/>
<ellipse cx="2601.49" cy="906.78" rx="1.25" ry="1.35"/>
<ellipse cx="2650.75" cy="906.78" rx="1.25" ry="1.35"/>
<ellipse cx="2700.01" cy="906.78" rx="1.25" ry="1.35"/>
<ellipse cx="2749.27" cy="906.78" rx="1.25" ry="1.35"/>
<ellipse cx="2798.53" cy="906.78" rx="1.25" ry="1.35"/>
<ellipse cx="2847.78" cy="906.78" rx="1.25" ry="1.35"/>
<ellipse cx="2995.56" cy="906.78" rx="1.25" ry="1.35"/>
<ellipse cx="3044.82" cy="906.78" rx="1.25" ry="1.35"/>
<ellipse cx="3094.07" cy="906.78" rx="1.25" ry="1.35"/>
<ellipse cx="3143.33" cy="906.78" rx="1.25" ry="1.35"/>
<ellipse cx="3192.59" cy="906.78" rx="1.25" ry="1.35"/>
<ellipse cx="483.4" cy="963.69" rx="1.25" ry="1.35"/>
<ellipse cx="532.66" cy="963.69" rx="1.25" ry="1.35"/>
<ellipse cx="581.92" cy="963.69" rx="1.25" ry="1.35"/>
<ellipse cx="631.17" cy="963.69" rx="1.25" ry="1.35"/>
<ellipse cx="680.43" cy="963.69" rx="1.25" ry="1.35"/>
<ellipse cx="926.72" cy="963.69" rx="1.25" ry="1.35"/>
<ellipse cx="1468.56" cy="963.69" rx="1.25" ry="1.35"/>
<ellipse cx="1517.82" cy="963.69" rx="1.25" ry="1.35"/>
<ellipse cx="1961.14" cy="963.69" rx="1.25" ry="1.35"/>
<ellipse cx="2010.4" cy="963.69" rx="1.25" ry="1.35"/>
<ellipse cx="2059.66" cy="963.69" rx="1.25" ry="1.35"/>
<ellipse cx="2108.91" cy="963.69" rx="1.25" ry="1.35"/>
<ellipse cx="2158.17" cy="963.69" rx="1.25" ry="1.35"/>
<ellipse cx="2207.43" cy="963.69" rx="1.25" ry="1.35"/>
<ellipse cx="2552.24" cy="963.69" rx="1.25" ry="1.35"/>
<ellipse cx="2601.49" cy="963.69" rx="1.25" ry="1.35"/>
<ellipse cx="2650.75" cy="963.69" rx="1.25" ry="1.35"/>
<ellipse cx="2700.01" cy="963.69" rx="1.25" ry="1.35"/>
<ellipse cx="2749.27" cy="963.69" rx="1.25" ry="1.35"/>
<ellipse cx="2798.53" cy="963.69" rx="1.25" ry="1.35"/>
<ellipse cx="2847.78" cy="963.69" rx="1.25" ry="1.35"/>
<ellipse cx="2995.56" cy="963.69" rx="1.25" ry="1.35"/>
<ellipse cx="3044.82" cy="963.69" rx="1.25" ry="1.35"/>
<ellipse cx="3094.07" cy="963.69" rx="1.25" ry="1.35"/>
<ellipse cx="3143.33" cy="963.69" rx="1.25" ry="1.35"/>
<ellipse cx="3192.59" cy="963.69" rx="1.25" ry="1.35"/>
<ellipse cx="483.4" cy="1020.6" rx="1.25" ry="1.35"/>
<ellipse cx="532.66" cy="1020.6" rx="1.25" ry="1.35"/>
<ellipse cx="581.92" cy="1020.6" rx="1.25" ry="1.35"/>
<ellipse cx="631.17" cy="1020.6" rx="1.25" ry="1.35"/>
<ellipse cx="680.43" cy="1020.6" rx="1.25" ry="1.35"/>
<ellipse cx="926.72" cy="1020.6" rx="1.25" ry="1.35"/>
<ellipse cx="1173.01" cy="1020.6" rx="1.25" ry="1.35"/>
<ellipse cx="1222.27" cy="1020.6" rx="1.25" ry="1.35"/>
<ellipse cx="1320.79" cy="1020.6" rx="1.25" ry="1.35"/>
<ellipse cx="1468.56" cy="1020.6" rx="1.25" ry="1.35"/>
<ellipse cx="1517.82" cy="1020.6" rx="1.25" ry="1.35"/>
<ellipse cx="1567.08" cy="1020.6" rx="1.25" ry="1.35"/>
<ellipse cx="1665.59" cy="1020.6" rx="1.25" ry="1.35"/>
<ellipse cx="1714.85" cy="1020.6" rx="1.25" ry="1.35"/>
<ellipse cx="1961.14" cy="1020.6" rx="1.25" ry="1.35"/>
<ellipse cx="2010.4" cy="1020.6" rx="1.25" ry="1.35"/>
<ellipse cx="2059.66" cy="1020.6" rx="1.25" ry="1.35"/>
<ellipse cx="2108.91" cy="1020.6" rx="1.25" ry="1.35"/>
<ellipse cx="2158.17" cy="1020.6" rx="1.25" ry="1.35"/>
<ellipse cx="2207.43" cy="1020.6" rx="1.25" ry="1.35"/>
<ellipse cx="2256.69" cy="1020.6" rx="1.25" ry="1.35"/>
<ellipse cx="2453.72" cy="1020.6" rx="1.25" ry="1.35"/>
<ellipse cx="2502.98" cy="1020.6" rx="1.25" ry="1.35"/>
<ellipse cx="2552.24" cy="1020.6" rx="1.25" ry="1.35"/>
<ellipse cx="2601.49" cy="1020.6" rx="1.25" ry="1.35"/>
<ellipse cx="2650.75" cy="1020.6" rx="1.25" ry="1.35"/>
<ellipse cx="2700.01" cy="1020.6" rx="1.25" ry="1.35"/>
<ellipse cx="2749.27" cy="1020.6" rx="1.25" ry="1.35"/>
<ellipse cx="2798.53" cy="1020.6" rx="1.25" ry="1.35"/>
<ellipse cx="2847.78" cy="1020.6" rx="1.25" ry="1.35"/>
<ellipse cx="2995.56" cy="1020.6" rx="1.25" ry="1.35"/>
<ellipse cx="3044.82" cy="1020.6" rx="1.25" ry="1.35"/>
<ellipse cx="3094.07" cy="1020.6" rx="1.25" ry="1.35"/>
<ellipse cx="3143.33" cy="1020.6" rx="1.25" ry="1.35"/>
<ellipse cx="3192.59" cy="1020.6" rx="1.25" ry="1.35"/>
</g>
<circle class="n" cx="730.59" cy="167" r="23.65"/>
<ellipse class="sn" cx="706.94" cy="167" rx="1.4" ry="1.8"/>
<circle class="n" cx="1173.91" cy="167" r="23.65"/>
<ellipse class="sn" cx="1150.26" cy="167" rx="1.4" ry="1.8"/>
<circle class="n" cx="1814.27" cy="167" r="23.65"/>
<ellipse class="sn" cx="1790.62" cy="167" rx="1.4" ry="1.8"/>
<circle class="n" cx="2897.94" cy="167" r="23.65"/>
<ellipse class="sn" cx="2874.29" cy="167" rx="1.4" ry="1.8"/>
<circle class="n" cx="2947.2" cy="167" r="23.65"/>
<ellipse class="sn" cx="2923.55" cy="167" rx="1.4" ry="1.8"/>
<circle class="n" cx="730.59" cy="223.91" r="23.65"/>
<ellipse class="sn" cx="706.94" cy="223.91" rx="1.4" ry="1.8"/>
<circle class="n" cx="779.85" cy="223.91" r="23.65"/>
<ellipse class="sn" cx="756.2" cy="223.91" rx="1.4" ry="1.8"/>
<circle class="n" cx="829.11" cy="223.91" r="23.65"/>
<ellipse class="sn" cx="805.46" cy="223.91" rx="1.4" ry="1.8"/>
<circle class="n" cx="878.36" cy="223.91" r="23.65"/>
<ellipse class="sn" cx="854.71" cy="223.91" rx="1.4" ry="1.8"/>
<circle class="n" cx="976.88" cy="223.91" r="23.65"/>
<ellipse class="sn" cx="953.23" cy="223.91" rx="1.4" ry="1.8"/>
<circle class="n" cx="1026.14" cy="223.91" r="23.65"/>
<ellipse class="sn" cx="1002.49" cy="223.91" rx="1.4" ry="1.8"/>
<circle class="n" cx="1075.4" cy="223.91" r="23.65"/>
<ellipse class="sn" cx="1051.75" cy="223.91" rx="1.4" ry="1.8"/>
<circle class="n" cx="1124.65" cy="223.91" r="23.65"/>
<ellipse class="sn" cx="1101" cy="223.91" rx="1.4" ry="1.8"/>
<circle class="n" cx="1370.94" cy="223.91" r="23.65"/>
<ellipse class="sn" cx="1347.29" cy="223.91" rx="1.4" ry="1.8"/>
<circle class="n" cx="1420.2" cy="223.91" r="23.65"/>
<ellipse class="sn" cx="1396.55" cy="223.91" rx="1.4" ry="1.8"/>
<circle class="n" cx="1617.23" cy="223.91" r="23.65"/>
<ellipse class="sn" cx="1593.58" cy="223.91" rx="1.4" ry="1.8"/>
<circle class="n" cx="1765.01" cy="223.91" r="23.65"/>
<ellipse class="sn" cx="1741.36" cy="223.91" rx="1.4" ry="1.8"/>
<circle class="n" cx="927.62" cy="280.82" r="23.65"/>
<ellipse class="sn" cx="903.97" cy="280.82" rx="1.4" ry="1.8"/>
<circle class="n" cx="730.59" cy="337.73" r="23.65"/>
<ellipse class="sn" cx="706.94" cy="337.73" rx="1.4" ry="1.8"/>
<circle class="n" cx="779.85" cy="337.73" r="23.65"/>
<ellipse class="sn" cx="756.2" cy="337.73" rx="1.4" ry="1.8"/>
<circle class="n" cx="829.11" cy="337.73" r="23.65"/>
<ellipse class="sn" cx="805.46" cy="337.73" rx="1.4" ry="1.8"/>
<circle class="n" cx="878.36" cy="337.73" r="23.65"/>
<ellipse class="sn" cx="854.71" cy="337.73" rx="1.4" ry="1.8"/>
<circle class="n" cx="976.88" cy="337.73" r="23.65"/>
<ellipse class="sn" cx="953.23" cy="337.73" rx="1.4" ry="1.8"/>
<circle class="n" cx="1026.14" cy="337.73" r="23.65"/>
<ellipse class="sn" cx="1002.49" cy="337.73" rx="1.4" ry="1.8"/>
<circle class="n" cx="1075.4" cy="337.73" r="23.65"/>
<ellipse class="sn" cx="1051.75" cy="337.73" rx="1.4" ry="1.8"/>
<circle class="n" cx="1124.65" cy="337.73" r="23.65"/>
<ellipse class="sn" cx="1101" cy="337.73" rx="1.4" ry="1.8"/>
<circle class="n" cx="1173.91" cy="337.73" r="23.65"/>
<ellipse class="sn" cx="1150.26" cy="337.73" rx="1.4" ry="1.8"/>
<circle class="n" cx="1223.17" cy="337.73" r="23.65"/>
<ellipse class="sn" cx="1199.52" cy="337.73" rx="1.4" ry="1.8"/>
<circle class="n" cx="1370.94" cy="337.73" r="23.65"/>
<ellipse class="sn" cx="1347.29" cy="337.73" rx="1.4" ry="1.8"/>
<circle class="n" cx="1420.2" cy="337.73" r="23.65"/>
<ellipse class="sn" cx="1396.55" cy="337.73" rx="1.4" ry="1.8"/>
<circle class="n" cx="1617.23" cy="337.73" r="23.65"/>
<ellipse class="sn" cx="1593.58" cy="337.73" rx="1.4" ry="1.8"/>
<circle class="n" cx="1765.01" cy="337.73" r="23.65"/>
<ellipse class="sn" cx="1741.36" cy="337.73" rx="1.4" ry="1.8"/>
<circle class="n" cx="1814.27" cy="337.73" r="23.65"/>
<ellipse class="sn" cx="1790.62" cy="337.73" rx="1.4" ry="1.8"/>
<circle class="n" cx="2257.59" cy="337.73" r="23.65"/>
<ellipse class="sn" cx="2233.94" cy="337.73" rx="1.4" ry="1.8"/>
<circle class="n" cx="2947.2" cy="337.73" r="23.65"/>
<ellipse class="sn" cx="2923.55" cy="337.73" rx="1.4" ry="1.8"/>
<circle class="n" cx="730.59" cy="394.64" r="23.65"/>
<ellipse class="sn" cx="706.94" cy="394.64" rx="1.4" ry="1.8"/>
<circle class="n" cx="779.85" cy="394.64" r="23.65"/>
<ellipse class="sn" cx="756.2" cy="394.64" rx="1.4" ry="1.8"/>
<circle class="n" cx="829.11" cy="394.64" r="23.65"/>
<ellipse class="sn" cx="805.46" cy="394.64" rx="1.4" ry="1.8"/>
<circle class="n" cx="878.36" cy="394.64" r="23.65"/>
<ellipse class="sn" cx="854.71" cy="394.64" rx="1.4" ry="1.8"/>
<circle class="n" cx="976.88" cy="394.64" r="23.65"/>
<ellipse class="sn" cx="953.23" cy="394.64" rx="1.4" ry="1.8"/>
<circle class="n" cx="1026.14" cy="394.64" r="23.65"/>
<ellipse class="sn" cx="1002.49" cy="394.64" rx="1.4" ry="1.8"/>
<circle class="n" cx="1075.4" cy="394.64" r="23.65"/>
<ellipse class="sn" cx="1051.75" cy="394.64" rx="1.4" ry="1.8"/>
<circle class="n" cx="1124.65" cy="394.64" r="23.65"/>
<ellipse class="sn" cx="1101" cy="394.64" rx="1.4" ry="1.8"/>
<circle class="n" cx="1173.91" cy="394.64" r="23.65"/>
<ellipse class="sn" cx="1150.26" cy="394.64" rx="1.4" ry="1.8"/>
<circle class="n" cx="1223.17" cy="394.64" r="23.65"/>
<ellipse class="sn" cx="1199.52" cy="394.64" rx="1.4" ry="1.8"/>
<circle class="n" cx="1272.43" cy="394.64" r="23.65"/>
<ellipse class="sn" cx="1248.78" cy="394.64" rx="1.4" ry="1.8"/>
<circle class="n" cx="1370.94" cy="394.64" r="23.65"/>
<ellipse class="sn" cx="1347.29" cy="394.64" rx="1.4" ry="1.8"/>
<circle class="n" cx="1420.2" cy="394.64" r="23.65"/>
<ellipse class="sn" cx="1396.55" cy="394.64" rx="1.4" ry="1.8"/>
<circle class="n" cx="1617.23" cy="394.64" r="23.65"/>
<ellipse class="sn" cx="1593.58" cy="394.64" rx="1.4" ry="1.8"/>
<circle class="n" cx="1666.49" cy="394.64" r="23.65"/>
<ellipse class="sn" cx="1642.84" cy="394.64" rx="1.4" ry="1.8"/>
<circle class="n" cx="1715.75" cy="394.64" r="23.65"/>
<ellipse class="sn" cx="1692.1" cy="394.64" rx="1.4" ry="1.8"/>
<circle class="n" cx="1814.27" cy="394.64" r="23.65"/>
<ellipse class="sn" cx="1790.62" cy="394.64" rx="1.4" ry="1.8"/>
<circle class="n" cx="1863.52" cy="394.64" r="23.65"/>
<ellipse class="sn" cx="1839.87" cy="394.64" rx="1.4" ry="1.8"/>
<circle class="n" cx="1912.78" cy="394.64" r="23.65"/>
<ellipse class="sn" cx="1889.13" cy="394.64" rx="1.4" ry="1.8"/>
<circle class="n" cx="2257.59" cy="394.64" r="23.65"/>
<ellipse class="sn" cx="2233.94" cy="394.64" rx="1.4" ry="1.8"/>
<circle class="n" cx="2306.85" cy="394.64" r="23.65"/>
<ellipse class="sn" cx="2283.2" cy="394.64" rx="1.4" ry="1.8"/>
<circle class="n" cx="2356.1" cy="394.64" r="23.65"/>
<ellipse class="sn" cx="2332.45" cy="394.64" rx="1.4" ry="1.8"/>
<circle class="n" cx="2405.36" cy="394.64" r="23.65"/>
<ellipse class="sn" cx="2381.71" cy="394.64" rx="1.4" ry="1.8"/>
<circle class="n" cx="2454.62" cy="394.64" r="23.65"/>
<ellipse class="sn" cx="2430.97" cy="394.64" rx="1.4" ry="1.8"/>
<circle class="n" cx="2503.88" cy="394.64" r="23.65"/>
<ellipse class="sn" cx="2480.23" cy="394.64" rx="1.4" ry="1.8"/>
<circle class="n" cx="2553.14" cy="394.64" r="23.65"/>
<ellipse class="sn" cx="2529.49" cy="394.64" rx="1.4" ry="1.8"/>
<circle class="n" cx="2897.94" cy="394.64" r="23.65"/>
<ellipse class="sn" cx="2874.29" cy="394.64" rx="1.4" ry="1.8"/>
<circle class="n" cx="2947.2" cy="394.64" r="23.65"/>
<ellipse class="sn" cx="2923.55" cy="394.64" rx="1.4" ry="1.8"/>
<circle class="n" cx="1617.23" cy="451.55" r="23.65"/>
<ellipse class="sn" cx="1593.58" cy="451.55" rx="1.4" ry="1.8"/>
<circle class="n" cx="1765.01" cy="451.55" r="23.65"/>
<ellipse class="sn" cx="1741.36" cy="451.55" rx="1.4" ry="1.8"/>
<circle class="n" cx="730.59" cy="508.46" r="23.65"/>
<ellipse class="sn" cx="706.94" cy="508.46" rx="1.4" ry="1.8"/>
<circle class="n" cx="779.85" cy="508.46" r="23.65"/>
<ellipse class="sn" cx="756.2" cy="508.46" rx="1.4" ry="1.8"/>
<circle class="n" cx="829.11" cy="508.46" r="23.65"/>
<ellipse class="sn" cx="805.46" cy="508.46" rx="1.4" ry="1.8"/>
<circle class="n" cx="878.36" cy="508.46" r="23.65"/>
<ellipse class="sn" cx="854.71" cy="508.46" rx="1.4" ry="1.8"/>
<circle class="n" cx="927.62" cy="508.46" r="23.65"/>
<ellipse class="sn" cx="903.97" cy="508.46" rx="1.4" ry="1.8"/>
<circle class="n" cx="976.88" cy="508.46" r="23.65"/>
<ellipse class="sn" cx="953.23" cy="508.46" rx="1.4" ry="1.8"/>
<circle class="n" cx="1026.14" cy="508.46" r="23.65"/>
<ellipse class="sn" cx="1002.49" cy="508.46" rx="1.4" ry="1.8"/>
<circle class="n" cx="1075.4" cy="508.46" r="23.65"/>
<ellipse class="sn" cx="1051.75" cy="508.46" rx="1.4" ry="1.8"/>
<circle class="n" cx="1124.65" cy="508.46" r="23.65"/>
<ellipse class="sn" cx="1101" cy="508.46" rx="1.4" ry="1.8"/>
<circle class="n" cx="1173.91" cy="508.46" r="23.65"/>
<ellipse class="sn" cx="1150.26" cy="508.46" rx="1.4" ry="1.8"/>
<circle class="n" cx="1223.17" cy="508.46" r="23.65"/>
<ellipse class="sn" cx="1199.52" cy="508.46" rx="1.4" ry="1.8"/>
<circle class="n" cx="1272.43" cy="508.46" r="23.65"/>
<ellipse class="sn" cx="1248.78" cy="508.46" rx="1.4" ry="1.8"/>
<circle class="n" cx="1370.94" cy="508.46" r="23.65"/>
<ellipse class="sn" cx="1347.29" cy="508.46" rx="1.4" ry="1.8"/>
<circle class="n" cx="1420.2" cy="508.46" r="23.65"/>
<ellipse class="sn" cx="1396.55" cy="508.46" rx="1.4" ry="1.8"/>
<circle class="n" cx="1567.98" cy="508.46" r="23.65"/>
<ellipse class="sn" cx="1544.33" cy="508.46" rx="1.4" ry="1.8"/>
<circle class="n" cx="1617.23" cy="508.46" r="23.65"/>
<ellipse class="sn" cx="1593.58" cy="508.46" rx="1.4" ry="1.8"/>
<circle class="n" cx="1666.49" cy="508.46" r="23.65"/>
<ellipse class="sn" cx="1642.84" cy="508.46" rx="1.4" ry="1.8"/>
<circle class="n" cx="1715.75" cy="508.46" r="23.65"/>
<ellipse class="sn" cx="1692.1" cy="508.46" rx="1.4" ry="1.8"/>
<circle class="n" cx="1765.01" cy="508.46" r="23.65"/>
<ellipse class="sn" cx="1741.36" cy="508.46" rx="1.4" ry="1.8"/>
<circle class="n" cx="1814.27" cy="508.46" r="23.65"/>
<ellipse class="sn" cx="1790.62" cy="508.46" rx="1.4" ry="1.8"/>
<circle class="n" cx="1863.52" cy="508.46" r="23.65"/>
<ellipse class="sn" cx="1839.87" cy="508.46" rx="1.4" ry="1.8"/>
<circle class="n" cx="1912.78" cy="508.46" r="23.65"/>
<ellipse class="sn" cx="1889.13" cy="508.46" rx="1.4" ry="1.8"/>
<circle class="n" cx="2454.62" cy="508.46" r="23.65"/>
<ellipse class="sn" cx="2430.97" cy="508.46" rx="1.4" ry="1.8"/>
<circle class="n" cx="2503.88" cy="508.46" r="23.65"/>
<ellipse class="sn" cx="2480.23" cy="508.46" rx="1.4" ry="1.8"/>
<circle class="n" cx="2897.94" cy="508.46" r="23.65"/>
<ellipse class="sn" cx="2874.29" cy="508.46" rx="1.4" ry="1.8"/>
<circle class="n" cx="2947.2" cy="508.46" r="23.65"/>
<ellipse class="sn" cx="2923.55" cy="508.46" rx="1.4" ry="1.8"/>
<circle class="n" cx="1075.4" cy="565.37" r="23.65"/>
<ellipse class="sn" cx="1051.75" cy="565.37" rx="1.4" ry="1.8"/>
<circle class="n" cx="1124.65" cy="565.37" r="23.65"/>
<ellipse class="sn" cx="1101" cy="565.37" rx="1.4" ry="1.8"/>
<circle class="n" cx="1617.23" cy="565.37" r="23.65"/>
<ellipse class="sn" cx="1593.58" cy="565.37" rx="1.4" ry="1.8"/>
<circle class="n" cx="484.3" cy="622.28" r="23.65"/>
<ellipse class="sn" cx="460.65" cy="622.28" rx="1.4" ry="1.8"/>
<circle class="u" cx="533.56" cy="622.28" r="23.65"/>
<ellipse class="su" cx="509.91" cy="622.28" rx="1.4" ry="1.8"/>
<circle class="u" cx="533.56" cy="622.28" r="23.65"/>
<ellipse class="su" cx="509.91" cy="622.28" rx="1.4" ry="1.8"/>
<circle class="u" cx="582.82" cy="622.28" r="23.65"/>
<ellipse class="su" cx="559.17" cy="622.28" rx="1.4" ry="1.8"/>
<circle class="u" cx="582.82" cy="622.28" r="23.65"/>
<ellipse class="su" cx="559.17" cy="622.28" rx="1.4" ry="1.8"/>
<circle class="n" cx="632.07" cy="622.28" r="23.65"/>
<ellipse class="sn" cx="608.42" cy="622.28" rx="1.4" ry="1.8"/>
<circle class="w" cx="681.33" cy="622.28" r="23.65"/>
<ellipse class="sw" cx="657.68" cy="622.28" rx="1.4" ry="1.8"/>
<circle class="w" cx="681.33" cy="622.28" r="23.65"/>
<ellipse class="sw" cx="657.68" cy="622.28" rx="1.4" ry="1.8"/>
<circle class="n" cx="927.62" cy="622.28" r="23.65"/>
<ellipse class="sn" cx="903.97" cy="622.28" rx="1.4" ry="1.8"/>
<circle class="n" cx="1272.43" cy="622.28" r="23.65"/>
<ellipse class="sn" cx="1248.78" cy="622.28" rx="1.4" ry="1.8"/>
<circle class="n" cx="1567.98" cy="622.28" r="23.65"/>
<ellipse class="sn" cx="1544.33" cy="622.28" rx="1.4" ry="1.8"/>
<circle class="n" cx="1617.23" cy="622.28" r="23.65"/>
<ellipse class="sn" cx="1593.58" cy="622.28" rx="1.4" ry="1.8"/>
<circle class="w" cx="1765.01" cy="622.28" r="23.65"/>
<ellipse class="sw" cx="1741.36" cy="622.28" rx="1.4" ry="1.8"/>
<circle class="w" cx="1765.01" cy="622.28" r="23.65"/>
<ellipse class="sw" cx="1741.36" cy="622.28" rx="1.4" ry="1.8"/>
<circle class="u" cx="1814.27" cy="622.28" r="23.65"/>
<ellipse class="su" cx="1790.62" cy="622.28" rx="1.4" ry="1.8"/>
<circle class="u" cx="1814.27" cy="622.28" r="23.65"/>
<ellipse class="su" cx="1790.62" cy="622.28" rx="1.4" ry="1.8"/>
<circle class="w" cx="1863.52" cy="622.28" r="23.65"/>
<ellipse class="sw" cx="1839.87" cy="622.28" rx="1.4" ry="1.8"/>
<circle class="w" cx="1863.52" cy="622.28" r="23.65"/>
<ellipse class="sw" cx="1839.87" cy="622.28" rx="1.4" ry="1.8"/>
<circle class="n" cx="1912.78" cy="622.28" r="23.65"/>
<ellipse class="sn" cx="1889.13" cy="622.28" rx="1.4" ry="1.8"/>
<circle class="w" cx="1962.04" cy="622.28" r="23.65"/>
<ellipse class="sw" cx="1938.39" cy="622.28" rx="1.4" ry="1.8"/>
<circle class="w" cx="1962.04" cy="622.28" r="23.65"/>
<ellipse class="sw" cx="1938.39" cy="622.28" rx="1.4" ry="1.8"/>
<circle class="n" cx="2011.3" cy="622.28" r="23.65"/>
<ellipse class="sn" cx="1987.65" cy="622.28" rx="1.4" ry="1.8"/>
<circle class="n" cx="2060.56" cy="622.28" r="23.65"/>
<ellipse class="sn" cx="2036.91" cy="622.28" rx="1.4" ry="1.8"/>
<circle class="n" cx="2109.81" cy="622.28" r="23.65"/>
<ellipse class="sn" cx="2086.16" cy="622.28" rx="1.4" ry="1.8"/>
<circle class="w" cx="2159.07" cy="622.28" r="23.65"/>
<ellipse class="sw" cx="2135.42" cy="622.28" rx="1.4" ry="1.8"/>
<circle class="w" cx="2159.07" cy="622.28" r="23.65"/>
<ellipse class="sw" cx="2135.42" cy="622.28" rx="1.4" ry="1.8"/>
<circle class="n" cx="2208.33" cy="622.28" r="23.65"/>
<ellipse class="sn" cx="2184.68" cy="622.28" rx="1.4" ry="1.8"/>
<circle class="n" cx="2257.59" cy="622.28" r="23.65"/>
<ellipse class="sn" cx="2233.94" cy="622.28" rx="1.4" ry="1.8"/>
<circle class="n" cx="2306.85" cy="622.28" r="23.65"/>
<ellipse class="sn" cx="2283.2" cy="622.28" rx="1.4" ry="1.8"/>
<circle class="n" cx="2356.1" cy="622.28" r="23.65"/>
<ellipse class="sn" cx="2332.45" cy="622.28" rx="1.4" ry="1.8"/>
<circle class="n" cx="2405.36" cy="622.28" r="23.65"/>
<ellipse class="sn" cx="2381.71" cy="622.28" rx="1.4" ry="1.8"/>
<circle class="n" cx="2454.62" cy="622.28" r="23.65"/>
<ellipse class="sn" cx="2430.97" cy="622.28" rx="1.4" ry="1.8"/>
<circle class="n" cx="2503.88" cy="622.28" r="23.65"/>
<ellipse class="sn" cx="2480.23" cy="622.28" rx="1.4" ry="1.8"/>
<circle class="n" cx="2553.14" cy="622.28" r="23.65"/>
<ellipse class="sn" cx="2529.49" cy="622.28" rx="1.4" ry="1.8"/>
<circle class="n" cx="2602.39" cy="622.28" r="23.65"/>
<ellipse class="sn" cx="2578.74" cy="622.28" rx="1.4" ry="1.8"/>
<circle class="n" cx="2651.65" cy="622.28" r="23.65"/>
<ellipse class="sn" cx="2628" cy="622.28" rx="1.4" ry="1.8"/>
<circle class="n" cx="2700.91" cy="622.28" r="23.65"/>
<ellipse class="sn" cx="2677.26" cy="622.28" rx="1.4" ry="1.8"/>
<circle class="n" cx="2750.17" cy="622.28" r="23.65"/>
<ellipse class="sn" cx="2726.52" cy="622.28" rx="1.4" ry="1.8"/>
<circle class="n" cx="2799.43" cy="622.28" r="23.65"/>
<ellipse class="sn" cx="2775.78" cy="622.28" rx="1.4" ry="1.8"/>
<circle class="w" cx="2848.68" cy="622.28" r="23.65"/>
<ellipse class="sw" cx="2825.03" cy="622.28" rx="1.4" ry="1.8"/>
<circle class="w" cx="2848.68" cy="622.28" r="23.65"/>
<ellipse class="sw" cx="2825.03" cy="622.28" rx="1.4" ry="1.8"/>
<circle class="n" cx="2897.94" cy="622.28" r="23.65"/>
<ellipse class="sn" cx="2874.29" cy="622.28" rx="1.4" ry="1.8"/>
<circle class="n" cx="2947.2" cy="622.28" r="23.65"/>
<ellipse class="sn" cx="2923.55" cy="622.28" rx="1.4" ry="1.8"/>
<circle class="n" cx="2996.46" cy="622.28" r="23.65"/>
<ellipse class="sn" cx="2972.81" cy="622.28" rx="1.4" ry="1.8"/>
<circle class="n" cx="3045.72" cy="622.28" r="23.65"/>
<ellipse class="sn" cx="3022.07" cy="622.28" rx="1.4" ry="1.8"/>
<circle class="n" cx="3094.97" cy="622.28" r="23.65"/>
<ellipse class="sn" cx="3071.32" cy="622.28" rx="1.4" ry="1.8"/>
<circle class="w" cx="3144.23" cy="622.28" r="23.65"/>
<ellipse class="sw" cx="3120.58" cy="622.28" rx="1.4" ry="1.8"/>
<circle class="w" cx="3144.23" cy="622.28" r="23.65"/>
<ellipse class="sw" cx="3120.58" cy="622.28" rx="1.4" ry="1.8"/>
<circle class="w" cx="3193.49" cy="622.28" r="23.65"/>
<ellipse class="sw" cx="3169.84" cy="622.28" rx="1.4" ry="1.8"/>
<circle class="w" cx="3193.49" cy="622.28" r="23.65"/>
<ellipse class="sw" cx="3169.84" cy="622.28" rx="1.4" ry="1.8"/>
<circle class="n" cx="1617.23" cy="679.19" r="23.65"/>
<ellipse class="sn" cx="1593.58" cy="679.19" rx="1.4" ry="1.8"/>
<circle class="n" cx="1765.01" cy="679.19" r="23.65"/>
<ellipse class="sn" cx="1741.36" cy="679.19" rx="1.4" ry="1.8"/>
<circle class="n" cx="1814.27" cy="679.19" r="23.65"/>
<ellipse class="sn" cx="1790.62" cy="679.19" rx="1.4" ry="1.8"/>
<circle class="w" cx="1272.43" cy="736.1" r="23.65"/>
<ellipse class="sw" cx="1248.78" cy="736.1" rx="1.4" ry="1.8"/>
<circle class="w" cx="1272.43" cy="736.1" r="23.65"/>
<ellipse class="sw" cx="1248.78" cy="736.1" rx="1.4" ry="1.8"/>
<circle class="w" cx="1814.27" cy="736.1" r="23.65"/>
<ellipse class="sw" cx="1790.62" cy="736.1" rx="1.4" ry="1.8"/>
<circle class="w" cx="1814.27" cy="736.1" r="23.65"/>
<ellipse class="sw" cx="1790.62" cy="736.1" rx="1.4" ry="1.8"/>
<circle class="n" cx="2257.59" cy="736.1" r="23.65"/>
<ellipse class="sn" cx="2233.94" cy="736.1" rx="1.4" ry="1.8"/>
<circle class="n" cx="2306.85" cy="736.1" r="23.65"/>
<ellipse class="sn" cx="2283.2" cy="736.1" rx="1.4" ry="1.8"/>
<circle class="n" cx="2356.1" cy="736.1" r="23.65"/>
<ellipse class="sn" cx="2332.45" cy="736.1" rx="1.4" ry="1.8"/>
<circle class="u" cx="2405.36" cy="736.1" r="23.65"/>
<ellipse class="su" cx="2381.71" cy="736.1" rx="1.4" ry="1.8"/>
<circle class="u" cx="2405.36" cy="736.1" r="23.65"/>
<ellipse class="su" cx="2381.71" cy="736.1" rx="1.4" ry="1.8"/>
<circle class="n" cx="2897.94" cy="736.1" r="23.65"/>
<ellipse class="sn" cx="2874.29" cy="736.1" rx="1.4" ry="1.8"/>
<circle class="w" cx="2947.2" cy="736.1" r="23.65"/>
<ellipse class="sw" cx="2923.55" cy="736.1" rx="1.4" ry="1.8"/>
<circle class="w" cx="2947.2" cy="736.1" r="23.65"/>
<ellipse class="sw" cx="2923.55" cy="736.1" rx="1.4" ry="1.8"/>
<circle class="n" cx="1765.01" cy="793.01" r="23.65"/>
<ellipse class="sn" cx="1741.36" cy="793.01" rx="1.4" ry="1.8"/>
<circle class="n" cx="730.59" cy="849.92" r="23.65"/>
<ellipse class="sn" cx="706.94" cy="849.92" rx="1.4" ry="1.8"/>
<circle class="n" cx="779.85" cy="849.92" r="23.65"/>
<ellipse class="sn" cx="756.2" cy="849.92" rx="1.4" ry="1.8"/>
<circle class="n" cx="829.11" cy="849.92" r="23.65"/>
<ellipse class="sn" cx="805.46" cy="849.92" rx="1.4" ry="1.8"/>
<circle class="n" cx="878.36" cy="849.92" r="23.65"/>
<ellipse class="sn" cx="854.71" cy="849.92" rx="1.4" ry="1.8"/>
<circle class="n" cx="976.88" cy="849.92" r="23.65"/>
<ellipse class="sn" cx="953.23" cy="849.92" rx="1.4" ry="1.8"/>
<circle class="n" cx="1026.14" cy="849.92" r="23.65"/>
<ellipse class="sn" cx="1002.49" cy="849.92" rx="1.4" ry="1.8"/>
<circle class="n" cx="1173.91" cy="849.92" r="23.65"/>
<ellipse class="sn" cx="1150.26" cy="849.92" rx="1.4" ry="1.8"/>
<circle class="n" cx="1223.17" cy="849.92" r="23.65"/>
<ellipse class="sn" cx="1199.52" cy="849.92" rx="1.4" ry="1.8"/>
<circle class="n" cx="1370.94" cy="849.92" r="23.65"/>
<ellipse class="sn" cx="1347.29" cy="849.92" rx="1.4" ry="1.8"/>
<circle class="n" cx="1420.2" cy="849.92" r="23.65"/>
<ellipse class="sn" cx="1396.55" cy="849.92" rx="1.4" ry="1.8"/>
<circle class="n" cx="1814.27" cy="849.92" r="23.65"/>
<ellipse class="sn" cx="1790.62" cy="849.92" rx="1.4" ry="1.8"/>
<circle class="n" cx="1863.52" cy="849.92" r="23.65"/>
<ellipse class="sn" cx="1839.87" cy="849.92" rx="1.4" ry="1.8"/>
<circle class="n" cx="1912.78" cy="849.92" r="23.65"/>
<ellipse class="sn" cx="1889.13" cy="849.92" rx="1.4" ry="1.8"/>
<circle class="n" cx="2257.59" cy="849.92" r="23.65"/>
<ellipse class="sn" cx="2233.94" cy="849.92" rx="1.4" ry="1.8"/>
<circle class="n" cx="2306.85" cy="849.92" r="23.65"/>
<ellipse class="sn" cx="2283.2" cy="849.92" rx="1.4" ry="1.8"/>
<circle class="n" cx="2897.94" cy="849.92" r="23.65"/>
<ellipse class="sn" cx="2874.29" cy="849.92" rx="1.4" ry="1.8"/>
<circle class="n" cx="2947.2" cy="849.92" r="23.65"/>
<ellipse class="sn" cx="2923.55" cy="849.92" rx="1.4" ry="1.8"/>
<circle class="n" cx="730.59" cy="906.83" r="23.65"/>
<ellipse class="sn" cx="706.94" cy="906.83" rx="1.4" ry="1.8"/>
<circle class="n" cx="779.85" cy="906.83" r="23.65"/>
<ellipse class="sn" cx="756.2" cy="906.83" rx="1.4" ry="1.8"/>
<circle class="n" cx="829.11" cy="906.83" r="23.65"/>
<ellipse class="sn" cx="805.46" cy="906.83" rx="1.4" ry="1.8"/>
<circle class="n" cx="878.36" cy="906.83" r="23.65"/>
<ellipse class="sn" cx="854.71" cy="906.83" rx="1.4" ry="1.8"/>
<circle class="n" cx="976.88" cy="906.83" r="23.65"/>
<ellipse class="sn" cx="953.23" cy="906.83" rx="1.4" ry="1.8"/>
<circle class="n" cx="1026.14" cy="906.83" r="23.65"/>
<ellipse class="sn" cx="1002.49" cy="906.83" rx="1.4" ry="1.8"/>
<circle class="n" cx="1075.4" cy="906.83" r="23.65"/>
<ellipse class="sn" cx="1051.75" cy="906.83" rx="1.4" ry="1.8"/>
<circle class="n" cx="1124.65" cy="906.83" r="23.65"/>
<ellipse class="sn" cx="1101" cy="906.83" rx="1.4" ry="1.8"/>
<circle class="n" cx="1173.91" cy="906.83" r="23.65"/>
<ellipse class="sn" cx="1150.26" cy="906.83" rx="1.4" ry="1.8"/>
<circle class="n" cx="1223.17" cy="906.83" r="23.65"/>
<ellipse class="sn" cx="1199.52" cy="906.83" rx="1.4" ry="1.8"/>
<circle class="n" cx="1272.43" cy="906.83" r="23.65"/>
<ellipse class="sn" cx="1248.78" cy="906.83" rx="1.4" ry="1.8"/>
<circle class="n" cx="1321.69" cy="906.83" r="23.65"/>
<ellipse class="sn" cx="1298.04" cy="906.83" rx="1.4" ry="1.8"/>
<circle class="n" cx="1370.94" cy="906.83" r="23.65"/>
<ellipse class="sn" cx="1347.29" cy="906.83" rx="1.4" ry="1.8"/>
<circle class="n" cx="1420.2" cy="906.83" r="23.65"/>
<ellipse class="sn" cx="1396.55" cy="906.83" rx="1.4" ry="1.8"/>
<circle class="n" cx="1469.46" cy="906.83" r="23.65"/>
<ellipse class="sn" cx="1445.81" cy="906.83" rx="1.4" ry="1.8"/>
<circle class="n" cx="1518.72" cy="906.83" r="23.65"/>
<ellipse class="sn" cx="1495.07" cy="906.83" rx="1.4" ry="1.8"/>
<circle class="n" cx="1617.23" cy="906.83" r="23.65"/>
<ellipse class="sn" cx="1593.58" cy="906.83" rx="1.4" ry="1.8"/>
<circle class="n" cx="1666.49" cy="906.83" r="23.65"/>
<ellipse class="sn" cx="1642.84" cy="906.83" rx="1.4" ry="1.8"/>
<circle class="n" cx="1715.75" cy="906.83" r="23.65"/>
<ellipse class="sn" cx="1692.1" cy="906.83" rx="1.4" ry="1.8"/>
<circle class="n" cx="1765.01" cy="906.83" r="23.65"/>
<ellipse class="sn" cx="1741.36" cy="906.83" rx="1.4" ry="1.8"/>
<circle class="n" cx="1814.27" cy="906.83" r="23.65"/>
<ellipse class="sn" cx="1790.62" cy="906.83" rx="1.4" ry="1.8"/>
<circle class="n" cx="1863.52" cy="906.83" r="23.65"/>
<ellipse class="sn" cx="1839.87" cy="906.83" rx="1.4" ry="1.8"/>
<circle class="n" cx="1912.78" cy="906.83" r="23.65"/>
<ellipse class="sn" cx="1889.13" cy="906.83" rx="1.4" ry="1.8"/>
<circle class="n" cx="2257.59" cy="906.83" r="23.65"/>
<ellipse class="sn" cx="2233.94" cy="906.83" rx="1.4" ry="1.8"/>
<circle class="n" cx="2306.85" cy="906.83" r="23.65"/>
<ellipse class="sn" cx="2283.2" cy="906.83" rx="1.4" ry="1.8"/>
<circle class="n" cx="2356.1" cy="906.83" r="23.65"/>
<ellipse class="sn" cx="2332.45" cy="906.83" rx="1.4" ry="1.8"/>
<circle class="n" cx="2405.36" cy="906.83" r="23.65"/>
<ellipse class="sn" cx="2381.71" cy="906.83" rx="1.4" ry="1.8"/>
<circle class="n" cx="2454.62" cy="906.83" r="23.65"/>
<ellipse class="sn" cx="2430.97" cy="906.83" rx="1.4" ry="1.8"/>
<circle class="n" cx="2503.88" cy="906.83" r="23.65"/>
<ellipse class="sn" cx="2480.23" cy="906.83" rx="1.4" ry="1.8"/>
<circle class="n" cx="2553.14" cy="906.83" r="23.65"/>
<ellipse class="sn" cx="2529.49" cy="906.83" rx="1.4" ry="1.8"/>
<circle class="n" cx="2897.94" cy="906.83" r="23.65"/>
<ellipse class="sn" cx="2874.29" cy="906.83" rx="1.4" ry="1.8"/>
<circle class="n" cx="2947.2" cy="906.83" r="23.65"/>
<ellipse class="sn" cx="2923.55" cy="906.83" rx="1.4" ry="1.8"/>
<circle class="n" cx="730.59" cy="963.74" r="23.65"/>
<ellipse class="sn" cx="706.94" cy="963.74" rx="1.4" ry="1.8"/>
<circle class="n" cx="779.85" cy="963.74" r="23.65"/>
<ellipse class="sn" cx="756.2" cy="963.74" rx="1.4" ry="1.8"/>
<circle class="n" cx="829.11" cy="963.74" r="23.65"/>
<ellipse class="sn" cx="805.46" cy="963.74" rx="1.4" ry="1.8"/>
<circle class="n" cx="878.36" cy="963.74" r="23.65"/>
<ellipse class="sn" cx="854.71" cy="963.74" rx="1.4" ry="1.8"/>
<circle class="n" cx="976.88" cy="963.74" r="23.65"/>
<ellipse class="sn" cx="953.23" cy="963.74" rx="1.4" ry="1.8"/>
<circle class="n" cx="1026.14" cy="963.74" r="23.65"/>
<ellipse class="sn" cx="1002.49" cy="963.74" rx="1.4" ry="1.8"/>
<circle class="n" cx="1075.4" cy="963.74" r="23.65"/>
<ellipse class="sn" cx="1051.75" cy="963.74" rx="1.4" ry="1.8"/>
<circle class="n" cx="1124.65" cy="963.74" r="23.65"/>
<ellipse class="sn" cx="1101" cy="963.74" rx="1.4" ry="1.8"/>
<circle class="n" cx="1173.91" cy="963.74" r="23.65"/>
<ellipse class="sn" cx="1150.26" cy="963.74" rx="1.4" ry="1.8"/>
<circle class="n" cx="1223.17" cy="963.74" r="23.65"/>
<ellipse class="sn" cx="1199.52" cy="963.74" rx="1.4" ry="1.8"/>
<circle class="n" cx="1272.43" cy="963.74" r="23.65"/>
<ellipse class="sn" cx="1248.78" cy="963.74" rx="1.4" ry="1.8"/>
<circle class="n" cx="1321.69" cy="963.74" r="23.65"/>
<ellipse class="sn" cx="1298.04" cy="963.74" rx="1.4" ry="1.8"/>
<circle class="n" cx="1370.94" cy="963.74" r="23.65"/>
<ellipse class="sn" cx="1347.29" cy="963.74" rx="1.4" ry="1.8"/>
<circle class="n" cx="1420.2" cy="963.74" r="23.65"/>
<ellipse class="sn" cx="1396.55" cy="963.74" rx="1.4" ry="1.8"/>
<circle class="n" cx="1567.98" cy="963.74" r="23.65"/>
<ellipse class="sn" cx="1544.33" cy="963.74" rx="1.4" ry="1.8"/>
<circle class="n" cx="1617.23" cy="963.74" r="23.65"/>
<ellipse class="sn" cx="1593.58" cy="963.74" rx="1.4" ry="1.8"/>
<circle class="n" cx="1666.49" cy="963.74" r="23.65"/>
<ellipse class="sn" cx="1642.84" cy="963.74" rx="1.4" ry="1.8"/>
<circle class="n" cx="1715.75" cy="963.74" r="23.65"/>
<ellipse class="sn" cx="1692.1" cy="963.74" rx="1.4" ry="1.8"/>
<circle class="n" cx="1765.01" cy="963.74" r="23.65"/>
<ellipse class="sn" cx="1741.36" cy="963.74" rx="1.4" ry="1.8"/>
<circle class="n" cx="1814.27" cy="963.74" r="23.65"/>
<ellipse class="sn" cx="1790.62" cy="963.74" rx="1.4" ry="1.8"/>
<circle class="n" cx="1863.52" cy="963.74" r="23.65"/>
<ellipse class="sn" cx="1839.87" cy="963.74" rx="1.4" ry="1.8"/>
<circle class="n" cx="1912.78" cy="963.74" r="23.65"/>
<ellipse class="sn" cx="1889.13" cy="963.74" rx="1.4" ry="1.8"/>
<circle class="n" cx="2257.59" cy="963.74" r="23.65"/>
<ellipse class="sn" cx="2233.94" cy="963.74" rx="1.4" ry="1.8"/>
<circle class="n" cx="2306.85" cy="963.74" r="23.65"/>
<ellipse class="sn" cx="2283.2" cy="963.74" rx="1.4" ry="1.8"/>
<circle class="n" cx="2356.1" cy="963.74" r="23.65"/>
<ellipse class="sn" cx="2332.45" cy="963.74" rx="1.4" ry="1.8"/>
<circle class="n" cx="2405.36" cy="963.74" r="23.65"/>
<ellipse class="sn" cx="2381.71" cy="963.74" rx="1.4" ry="1.8"/>
<circle class="n" cx="2454.62" cy="963.74" r="23.65"/>
<ellipse class="sn" cx="2430.97" cy="963.74" rx="1.4" ry="1.8"/>
<circle class="n" cx="2503.88" cy="963.74" r="23.65"/>
<ellipse class="sn" cx="2480.23" cy="963.74" rx="1.4" ry="1.8"/>
<circle class="n" cx="2897.94" cy="963.74" r="23.65"/>
<ellipse class="sn" cx="2874.29" cy="963.74" rx="1.4" ry="1.8"/>
<circle class="n" cx="2947.2" cy="963.74" r="23.65"/>
<ellipse class="sn" cx="2923.55" cy="963.74" rx="1.4" ry="1.8"/>
<circle class="n" cx="730.59" cy="1020.65" r="23.65"/>
<ellipse class="sn" cx="706.94" cy="1020.65" rx="1.4" ry="1.8"/>
<circle class="n" cx="779.85" cy="1020.65" r="23.65"/>
<ellipse class="sn" cx="756.2" cy="1020.65" rx="1.4" ry="1.8"/>
<circle class="n" cx="829.11" cy="1020.65" r="23.65"/>
<ellipse class="sn" cx="805.46" cy="1020.65" rx="1.4" ry="1.8"/>
<circle class="n" cx="878.36" cy="1020.65" r="23.65"/>
<ellipse class="sn" cx="854.71" cy="1020.65" rx="1.4" ry="1.8"/>
<circle class="n" cx="976.88" cy="1020.65" r="23.65"/>
<ellipse class="sn" cx="953.23" cy="1020.65" rx="1.4" ry="1.8"/>
<circle class="n" cx="1026.14" cy="1020.65" r="23.65"/>
<ellipse class="sn" cx="1002.49" cy="1020.65" rx="1.4" ry="1.8"/>
<circle class="n" cx="1075.4" cy="1020.65" r="23.65"/>
<ellipse class="sn" cx="1051.75" cy="1020.65" rx="1.4" ry="1.8"/>
<circle class="n" cx="1124.65" cy="1020.65" r="23.65"/>
<ellipse class="sn" cx="1101" cy="1020.65" rx="1.4" ry="1.8"/>
<circle class="n" cx="1272.43" cy="1020.65" r="23.65"/>
<ellipse class="sn" cx="1248.78" cy="1020.65" rx="1.4" ry="1.8"/>
<circle class="n" cx="1370.94" cy="1020.65" r="23.65"/>
<ellipse class="sn" cx="1347.29" cy="1020.65" rx="1.4" ry="1.8"/>
<circle class="n" cx="1420.2" cy="1020.65" r="23.65"/>
<ellipse class="sn" cx="1396.55" cy="1020.65" rx="1.4" ry="1.8"/>
<circle class="n" cx="1617.23" cy="1020.65" r="23.65"/>
<ellipse class="sn" cx="1593.58" cy="1020.65" rx="1.4" ry="1.8"/>
<circle class="n" cx="1765.01" cy="1020.65" r="23.65"/>
<ellipse class="sn" cx="1741.36" cy="1020.65" rx="1.4" ry="1.8"/>
<circle class="n" cx="1814.27" cy="1020.65" r="23.65"/>
<ellipse class="sn" cx="1790.62" cy="1020.65" rx="1.4" ry="1.8"/>
<circle class="n" cx="1863.52" cy="1020.65" r="23.65"/>
<ellipse class="sn" cx="1839.87" cy="1020.65" rx="1.4" ry="1.8"/>
<circle class="n" cx="1912.78" cy="1020.65" r="23.65"/>
<ellipse class="sn" cx="1889.13" cy="1020.65" rx="1.4" ry="1.8"/>
<circle class="n" cx="2306.85" cy="1020.65" r="23.65"/>
<ellipse class="sn" cx="2283.2" cy="1020.65" rx="1.4" ry="1.8"/>
<circle class="n" cx="2356.1" cy="1020.65" r="23.65"/>
<ellipse class="sn" cx="2332.45" cy="1020.65" rx="1.4" ry="1.8"/>
<circle class="n" cx="2405.36" cy="1020.65" r="23.65"/>
<ellipse class="sn" cx="2381.71" cy="1020.65" rx="1.4" ry="1.8"/>
<circle class="n" cx="2897.94" cy="1020.65" r="23.65"/>
<ellipse class="sn" cx="2874.29" cy="1020.65" rx="1.4" ry="1.8"/>
<circle class="n" cx="2947.2" cy="1020.65" r="23.65"/>
<ellipse class="sn" cx="2923.55" cy="1020.65" rx="1.4" ry="1.8"/>
<rect x="435.2" y="132.5" width="2787.5" height="922" fill="none" stroke="#000" stroke-width="4.45" stroke-linejoin="round"/>
<path class="tk" d="M423.25 166.65H435.2M423.25 223.56H435.2M423.25 280.47H435.2M423.25 337.38H435.2M423.25 394.29H435.2M423.25 451.2H435.2M423.25 508.11H435.2M423.25 565.02H435.2M423.25 621.93H435.2M423.25 678.84H435.2M423.25 735.75H435.2M423.25 792.66H435.2M423.25 849.57H435.2M423.25 906.48H435.2M423.25 963.39H435.2M423.25 1020.3H435.2M484.3 1054.5V1065.96M533.56 1054.5V1065.96M582.82 1054.5V1065.96M632.07 1054.5V1065.96M681.33 1054.5V1065.96M730.59 1054.5V1065.96M779.85 1054.5V1065.96M829.11 1054.5V1065.96M878.36 1054.5V1065.96M927.62 1054.5V1065.96M976.88 1054.5V1065.96M1026.14 1054.5V1065.96M1075.4 1054.5V1065.96M1124.65 1054.5V1065.96M1173.91 1054.5V1065.96M1223.17 1054.5V1065.96M1272.43 1054.5V1065.96M1321.69 1054.5V1065.96M1370.94 1054.5V1065.96M1420.2 1054.5V1065.96M1469.46 1054.5V1065.96M1518.72 1054.5V1065.96M1567.98 1054.5V1065.96M1617.23 1054.5V1065.96M1666.49 1054.5V1065.96M1715.75 1054.5V1065.96M1765.01 1054.5V1065.96M1814.27 1054.5V1065.96M1863.52 1054.5V1065.96M1912.78 1054.5V1065.96M1962.04 1054.5V1065.96M2011.3 1054.5V1065.96M2060.56 1054.5V1065.96M2109.81 1054.5V1065.96M2159.07 1054.5V1065.96M2208.33 1054.5V1065.96M2257.59 1054.5V1065.96M2306.85 1054.5V1065.96M2356.1 1054.5V1065.96M2405.36 1054.5V1065.96M2454.62 1054.5V1065.96M2503.88 1054.5V1065.96M2553.14 1054.5V1065.96M2602.39 1054.5V1065.96M2651.65 1054.5V1065.96M2700.91 1054.5V1065.96M2750.17 1054.5V1065.96M2799.43 1054.5V1065.96M2848.68 1054.5V1065.96M2897.94 1054.5V1065.96M2947.2 1054.5V1065.96M2996.46 1054.5V1065.96M3045.72 1054.5V1065.96M3094.97 1054.5V1065.96M3144.23 1054.5V1065.96M3193.49 1054.5V1065.96"/>
<text class="yl" transform="translate(414.5 180.15) scale(1 1.04)">Progenitors</text>
<text class="yl" transform="translate(414.5 237.06) scale(1 1.04)">Plasma cells</text>
<text class="yl" transform="translate(414.5 293.97) scale(1 1.04)" dx="0 0 -1.12">Physiology B cells</text>
<text class="yl" transform="translate(414.5 350.88) scale(1 1.04)">pDCs</text>
<text class="yl" transform="translate(414.5 407.79) scale(1 1.04)">NK cells</text>
<text class="yl" transform="translate(414.5 464.7) scale(1 1.04)">Neutrophils</text>
<text class="yl" transform="translate(414.5 521.61) scale(1 1.04)">Mono/Macro</text>
<text class="yl" transform="translate(414.5 578.52) scale(1 1.04)">Mast cells</text>
<text class="yl" transform="translate(414.5 635.43) scale(1 1.04)">Malignant cells</text>
<text class="yl" transform="translate(414.5 692.34) scale(1 1.04)" dx="0 0 0 0 0 0 -0.75">Fibroblasts</text>
<text class="yl" transform="translate(414.5 749.25) scale(1 1.04)" dx="0 0 1.12">Erythrocytes</text>
<text class="yl" transform="translate(414.5 806.16) scale(1 1.04)">Endothelial cells</text>
<text class="yl" transform="translate(414.5 863.07) scale(1 1.04)">cDCs</text>
<text class="yl" transform="translate(414.5 919.98) scale(1 1.04)">CD8+ T cells</text>
<text class="yl" transform="translate(414.5 976.89) scale(1 1.04)">CD4+ T cells</text>
<text class="yl" transform="translate(414.5 1033.8) scale(1 1.04)">B cells</text>
<text class="xl" transform="translate(484.3 1075.1) rotate(-50) scale(1 1.04)" y="20.19">GSE140440</text>
<text class="xl" transform="translate(533.56 1075.1) rotate(-50) scale(1 1.04)" y="20.19">GSE186960</text>
<text class="xl" transform="translate(582.82 1075.1) rotate(-50) scale(1 1.04)" y="20.19">GSE138267</text>
<text class="xl" transform="translate(632.07 1075.1) rotate(-50) scale(1 1.04)" y="20.19" dx="0 0 0 0 0 0 0 0 0 0 0 -1.17">GSE131984_Pac</text>
<text class="xl" transform="translate(681.33 1075.1) rotate(-50) scale(1 1.04)" y="20.19">GSE163836</text>
<text class="xl" transform="translate(730.59 1075.1) rotate(-50) scale(1 1.04)" y="20.19" dx="0 0 0 0 0 0 0 0 0 0 0 -1.17">GSE169246_PacBlood_post</text>
<text class="xl" transform="translate(779.85 1075.1) rotate(-50) scale(1 1.04)" y="20.19" dx="0 0 0 0 0 0 0 0 0 0 0 -1.17">GSE169246_PacBlood_pre</text>
<text class="xl" transform="translate(829.11 1075.1) rotate(-50) scale(1 1.04)" y="20.19" dx="0 0 0 0 0 0 0 0 0 0 0 -1.17">GSE169246_PacTissue_post</text>
<text class="xl" transform="translate(878.36 1075.1) rotate(-50) scale(1 1.04)" y="20.19" dx="0 0 0 0 0 0 0 0 0 0 0 -1.17">GSE169246_PacTissue_pre</text>
<text class="xl" transform="translate(927.62 1075.1) rotate(-50) scale(1 1.04)" y="20.19">GSE153697</text>
<text class="xl" transform="translate(976.88 1075.1) rotate(-50) scale(1 1.04)" y="20.19" dx="0 0 0 0 0 0 0 0 0 0 0 -1.17">GSE169246_PacAteBlood_post</text>
<text class="xl" transform="translate(1026.14 1075.1) rotate(-50) scale(1 1.04)" y="20.19" dx="0 0 0 0 0 0 0 0 0 0 0 -1.17">GSE169246_PacAteBlood_pre</text>
<text class="xl" transform="translate(1075.4 1075.1) rotate(-50) scale(1 1.04)" y="20.19" dx="0 0 0 0 0 0 0 0 0 0 0 -1.17">GSE169246_PacAteTissue_post</text>
<text class="xl" transform="translate(1124.65 1075.1) rotate(-50) scale(1 1.04)" y="20.19" dx="0 0 0 0 0 0 0 0 0 0 0 -1.17">GSE169246_PacAteTissue_pre</text>
<text class="xl" transform="translate(1173.91 1075.1) rotate(-50) scale(1 1.04)" y="20.19">GSE197268_Axi−cel_post</text>
<text class="xl" transform="translate(1223.17 1075.1) rotate(-50) scale(1 1.04)" y="20.19">GSE197268_Axi−cel_pre</text>
<text class="xl" transform="translate(1272.43 1075.1) rotate(-50) scale(1 1.04)" y="20.19">GSE164551</text>
<text class="xl" transform="translate(1321.69 1075.1) rotate(-50) scale(1 1.04)" y="20.19">PMID34715028_post</text>
<text class="xl" transform="translate(1370.94 1075.1) rotate(-50) scale(1 1.04)" y="20.19">GSE212217_post</text>
<text class="xl" transform="translate(1420.2 1075.1) rotate(-50) scale(1 1.04)" y="20.19">GSE212217_pre</text>
<text class="xl" transform="translate(1469.46 1075.1) rotate(-50) scale(1 1.04)" y="20.19">GSE164237_post</text>
<text class="xl" transform="translate(1518.72 1075.1) rotate(-50) scale(1 1.04)" y="20.19">GSE164237_pre</text>
<text class="xl" transform="translate(1567.98 1075.1) rotate(-50) scale(1 1.04)" y="20.19">GSE150930</text>
<text class="xl" transform="translate(1617.23 1075.1) rotate(-50) scale(1 1.04)" y="20.19">GSE207422_Sin_post</text>
<text class="xl" transform="translate(1666.49 1075.1) rotate(-50) scale(1 1.04)" y="20.19">GSE197268_Tisa−cel_post</text>
<text class="xl" transform="translate(1715.75 1075.1) rotate(-50) scale(1 1.04)" y="20.19">GSE197268_Tisa−cel_pre</text>
<text class="xl" transform="translate(1765.01 1075.1) rotate(-50) scale(1 1.04)" y="20.19" dx="0 0 0 0 0 0 0 0 0 0 0 -3.5">GSE207422_Tor_post</text>
<text class="xl" transform="translate(1814.27 1075.1) rotate(-50) scale(1 1.04)" y="20.19">GSE189460_pre</text>
<text class="xl" transform="translate(1863.52 1075.1) rotate(-50) scale(1 1.04)" y="20.19">GSE161801_PI_post</text>
<text class="xl" transform="translate(1912.78 1075.1) rotate(-50) scale(1 1.04)" y="20.19">GSE161801_PI_pre</text>
<text class="xl" transform="translate(1962.04 1075.1) rotate(-50) scale(1 1.04)" y="20.19">GSE139386</text>
<text class="xl" transform="translate(2011.3 1075.1) rotate(-50) scale(1 1.04)" y="20.19">GSE161195_post</text>
<text class="xl" transform="translate(2060.56 1075.1) rotate(-50) scale(1 1.04)" y="20.19">GSE161195_pre</text>
<text class="xl" transform="translate(2109.81 1075.1) rotate(-50) scale(1 1.04)" y="20.19">GSE158457</text>
<text class="xl" transform="translate(2159.07 1075.1) rotate(-50) scale(1 1.04)" y="20.19">GSE168668</text>
<text class="xl" transform="translate(2208.33 1075.1) rotate(-50) scale(1 1.04)" y="20.19">GSE149214</text>
<text class="xl" transform="translate(2257.59 1075.1) rotate(-50) scale(1 1.04)" y="20.19">GSE162117_post</text>
<text class="xl" transform="translate(2306.85 1075.1) rotate(-50) scale(1 1.04)" y="20.19">GSE162117_pre</text>
<text class="xl" transform="translate(2356.1 1075.1) rotate(-50) scale(1 1.04)" y="20.19">GSE199333_post</text>
<text class="xl" transform="translate(2405.36 1075.1) rotate(-50) scale(1 1.04)" y="20.19">GSE199333_pre</text>
<text class="xl" transform="translate(2454.62 1075.1) rotate(-50) scale(1 1.04)" y="20.19">GSE111014_post</text>
<text class="xl" transform="translate(2503.88 1075.1) rotate(-50) scale(1 1.04)" y="20.19">GSE111014_pre</text>
<text class="xl" transform="translate(2553.14 1075.1) rotate(-50) scale(1 1.04)" y="20.19">GSE152469</text>
<text class="xl" transform="translate(2602.39 1075.1) rotate(-50) scale(1 1.04)" y="20.19">GSE131984_JQ1</text>
<text class="xl" transform="translate(2651.65 1075.1) rotate(-50) scale(1 1.04)" y="20.19" dx="0 0 0 0 0 0 0 0 0 0 0 0 0 0 -1.17">GSE131984_JQ1Pac</text>
<text class="xl" transform="translate(2700.91 1075.1) rotate(-50) scale(1 1.04)" y="20.19" dx="0 0 0 0 0 0 0 0 0 0 0 0 0 0 -1.17">GSE131984_JQ1Pal</text>
<text class="xl" transform="translate(2750.17 1075.1) rotate(-50) scale(1 1.04)" y="20.19">GSE104987</text>
<text class="xl" transform="translate(2799.43 1075.1) rotate(-50) scale(1 1.04)" y="20.19" dx="0 0 0 0 0 0 0 0 0 0 0 -1.17">GSE131984_Pal</text>
<text class="xl" transform="translate(2848.68 1075.1) rotate(-50) scale(1 1.04)" y="20.19">GSE108397</text>
<text class="xl" transform="translate(2897.94 1075.1) rotate(-50) scale(1 1.04)" y="20.19">GSE161801_IMiD_post</text>
<text class="xl" transform="translate(2947.2 1075.1) rotate(-50) scale(1 1.04)" y="20.19">GSE161801_IMiD_pre</text>
<text class="xl" transform="translate(2996.46 1075.1) rotate(-50) scale(1 1.04)" y="20.19">GSE175716</text>
<text class="xl" transform="translate(3045.72 1075.1) rotate(-50) scale(1 1.04)" y="20.19">GSE115251</text>
<text class="xl" transform="translate(3094.97 1075.1) rotate(-50) scale(1 1.04)" y="20.19" dx="0 0 0 0 0 0 0 0 0 0 0 -2.33">GSE164897_Vem</text>
<text class="xl" transform="translate(3144.23 1075.1) rotate(-50) scale(1 1.04)" y="20.19" dx="0 0 0 0 0 0 0 0 0 0 0 -2.33">GSE164897_VemCob</text>
<text class="xl" transform="translate(3193.49 1075.1) rotate(-50) scale(1 1.04)" y="20.19" dx="0 0 0 0 0 0 0 0 0 0 0 -2.33 0 0 -3.5 -0.29">GSE164897_VemTra</text>
<path d="M434.9 1418.7H666.8" stroke="#000" stroke-width="4.85" fill="none"/>
<text class="ser" x="483.4" y="1482.4" dx="0 0 0 0 0 0 0 0 0 0 0 -0.54">Chemotherapy</text>
<path d="M681.5 1418.7H1602.7" stroke="#000" stroke-width="4.85" fill="none"/>
<text class="ser" x="1183.2" y="1482.4" dx="0 0 0 0 0 0 0 0 0 0 0 0 -0.54">Immunotherapy</text>
<path d="M1627 1418.7H3045.9" stroke="#000" stroke-width="4.85" fill="none"/>
<text class="ser" x="2405" y="1482.4" dx="0 -4.31 0 -0.97 0 0 0 0 0 0 0 0 0 0 0 -0.54">Targeted therapy</text>
<text class="lt" transform="translate(3291.5 490.7) scale(1 1.04)">Expression</text>
<rect x="3291.2" y="518.7" width="72.2" height="216.6" fill="#f2f2f2"/>
<circle cx="3327.3" cy="554.8" r="8.3" fill="#da9189" stroke="rgba(0,0,0,0.55)" stroke-width="3"/>
<ellipse cx="3319" cy="554.8" rx="1.3" ry="1.6" fill="rgba(0,0,0,0.55)"/>
<text class="ll" transform="translate(3386.2 568.2) scale(1 1.04)">Up</text>
<circle cx="3327.3" cy="627" r="8.3" fill="#73afd5" stroke="rgba(0,0,0,0.55)" stroke-width="3"/>
<ellipse cx="3319" cy="627" rx="1.3" ry="1.6" fill="rgba(0,0,0,0.55)"/>
<text class="ll" transform="translate(3386.2 640.4) scale(1 1.04)" dx="0 0 -0.55">Down</text>
<circle cx="3327.3" cy="699.2" r="8.3" fill="#fafafa" stroke="rgba(0,0,0,0.48)" stroke-width="3"/>
<ellipse cx="3319" cy="699.2" rx="1.3" ry="1.6" fill="rgba(0,0,0,0.48)"/>
<text class="ll" transform="translate(3386.2 712.6) scale(1 1.04)">None</text>
</svg>
</body></html>
